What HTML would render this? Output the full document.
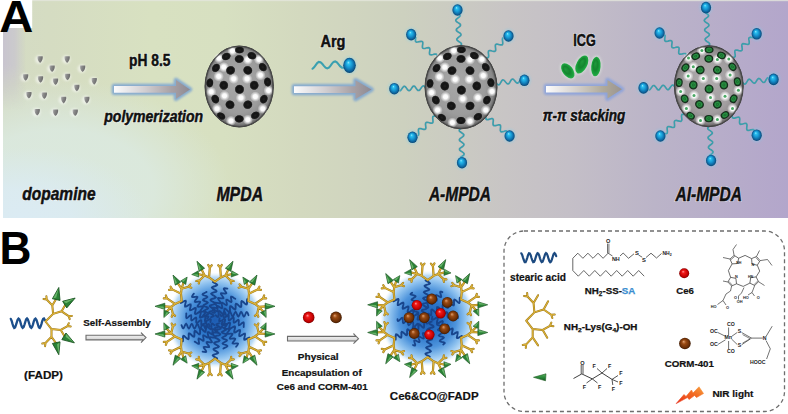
<!DOCTYPE html><html><head><meta charset="utf-8"><style>html,body{margin:0;padding:0;background:#fff;width:788px;height:414px;overflow:hidden}svg{display:block}text{font-family:"Liberation Sans",sans-serif}</style></head><body>
<svg width="788" height="414" viewBox="0 0 788 414">
<defs>
<linearGradient id="bgH" gradientUnits="userSpaceOnUse" x1="3" y1="0" x2="788" y2="0">
<stop offset="0" stop-color="#d4dbc4"/>
<stop offset="0.06" stop-color="#d5dcc2"/>
<stop offset="0.19" stop-color="#d8e1c1"/>
<stop offset="0.28" stop-color="#d7e0c1"/>
<stop offset="0.38" stop-color="#d3d9bf"/>
<stop offset="0.51" stop-color="#cdd1bf"/>
<stop offset="0.64" stop-color="#c8c5c5"/>
<stop offset="0.72" stop-color="#c4bfc7"/>
<stop offset="0.83" stop-color="#bbb4c8"/>
<stop offset="1" stop-color="#b3a6cb"/>
</linearGradient>
<radialGradient id="bgMint" gradientUnits="userSpaceOnUse" cx="60" cy="190" r="170" gradientTransform="translate(60 190) scale(1 0.647) translate(-60 -190)">
<stop offset="0" stop-color="#dbe9df" stop-opacity="0.95"/>
<stop offset="0.55" stop-color="#dbe9df" stop-opacity="0.9"/>
<stop offset="1" stop-color="#dbe9df" stop-opacity="0"/>
</radialGradient>
<radialGradient id="bgBlue" gradientUnits="userSpaceOnUse" cx="20" cy="217" r="130" gradientTransform="translate(20 217) scale(1 0.54) translate(-20 -217)">
<stop offset="0" stop-color="#dbebf3" stop-opacity="1"/>
<stop offset="0.4" stop-color="#dbebf3" stop-opacity="0.85"/>
<stop offset="1" stop-color="#dbebf3" stop-opacity="0"/>
</radialGradient>
<linearGradient id="bgL" gradientUnits="userSpaceOnUse" x1="3" y1="0" x2="26" y2="0">
<stop offset="0" stop-color="#c8c4cf" stop-opacity="1"/>
<stop offset="0.5" stop-color="#c8c4cf" stop-opacity="0.75"/>
<stop offset="1" stop-color="#c8c5cf" stop-opacity="0"/>
</linearGradient>
<linearGradient id="bgLmask" gradientUnits="userSpaceOnUse" x1="0" y1="28" x2="0" y2="110">
<stop offset="0" stop-color="#fff"/>
<stop offset="0.45" stop-color="#fff"/>
<stop offset="1" stop-color="#000"/>
</linearGradient>
<mask id="mL"><rect x="0" y="0" width="60" height="217" fill="url(#bgLmask)"/></mask>

<linearGradient id="arrG" x1="0" y1="0" x2="1" y2="0">
<stop offset="0" stop-color="#fbfbfd"/>
<stop offset="0.4" stop-color="#d2cfd2"/>
<stop offset="0.75" stop-color="#a9a2a6"/>
<stop offset="1" stop-color="#8e8a92"/>
</linearGradient>
<linearGradient id="arrG3" x1="0" y1="0" x2="1" y2="0">
<stop offset="0" stop-color="#fcfcfd"/>
<stop offset="0.4" stop-color="#d4d0cc"/>
<stop offset="0.75" stop-color="#b0aa9a"/>
<stop offset="1" stop-color="#9a9490"/>
</linearGradient>
<linearGradient id="arrGv" x1="0" y1="0" x2="0" y2="1">
<stop offset="0" stop-color="#fff" stop-opacity="0.5"/>
<stop offset="0.5" stop-color="#fff" stop-opacity="0"/>
<stop offset="1" stop-color="#000" stop-opacity="0.1"/>
</linearGradient>
<filter id="glow" x="-20%" y="-50%" width="140%" height="200%"><feGaussianBlur stdDeviation="1.0"/></filter>
<filter id="blur1" x="-50%" y="-50%" width="200%" height="200%"><feGaussianBlur stdDeviation="0.9"/></filter>
<filter id="blur05" x="-50%" y="-50%" width="200%" height="200%"><feGaussianBlur stdDeviation="0.5"/></filter>
<filter id="blur2" x="-50%" y="-50%" width="200%" height="200%"><feGaussianBlur stdDeviation="2"/></filter>
<filter id="tsh" x="-10%" y="-30%" width="120%" height="160%"><feGaussianBlur stdDeviation="0.35"/></filter>

<radialGradient id="sph" cx="0.5" cy="0.5" r="0.5" fx="0.45" fy="0.42">
<stop offset="0" stop-color="#a9a9a9"/>
<stop offset="0.7" stop-color="#9c9c9c"/>
<stop offset="0.92" stop-color="#888"/>
<stop offset="1" stop-color="#5a5a5a"/>
</radialGradient>
<radialGradient id="sphG" cx="0.5" cy="0.5" r="0.5" fx="0.45" fy="0.42">
<stop offset="0" stop-color="#b0acae"/>
<stop offset="0.7" stop-color="#a29ea0"/>
<stop offset="0.92" stop-color="#8c888a"/>
<stop offset="1" stop-color="#5e5a5c"/>
</radialGradient>
<radialGradient id="wsp" cx="0.5" cy="0.5" r="0.5">
<stop offset="0" stop-color="#ffffff" stop-opacity="1"/>
<stop offset="0.4" stop-color="#ffffff" stop-opacity="0.95"/>
<stop offset="0.7" stop-color="#f4f4f4" stop-opacity="0.5"/>
<stop offset="1" stop-color="#ffffff" stop-opacity="0"/>
</radialGradient>
<radialGradient id="dsp" cx="0.5" cy="0.5" r="0.5">
<stop offset="0" stop-color="#202020"/>
<stop offset="0.45" stop-color="#141414"/>
<stop offset="0.75" stop-color="#1a1a1a"/>
<stop offset="0.9" stop-color="#333" stop-opacity="0.7"/>
<stop offset="1" stop-color="#555" stop-opacity="0"/>
</radialGradient>
<radialGradient id="gsp" cx="0.5" cy="0.5" r="0.5">
<stop offset="0" stop-color="#248a3c"/>
<stop offset="0.35" stop-color="#1a6e30"/>
<stop offset="0.6" stop-color="#2a9444"/>
<stop offset="1" stop-color="#175a28"/>
</radialGradient>
<radialGradient id="ball" cx="0.5" cy="0.5" r="0.5" fx="0.4" fy="0.3">
<stop offset="0" stop-color="#9aeaff"/>
<stop offset="0.2" stop-color="#28c0f0"/>
<stop offset="0.55" stop-color="#1590cc"/>
<stop offset="0.85" stop-color="#0d6098"/>
<stop offset="1" stop-color="#0a4470"/>
</radialGradient>
<linearGradient id="dotg" x1="0" y1="0" x2="1" y2="0.3">
<stop offset="0" stop-color="#c4c4c4"/>
<stop offset="0.35" stop-color="#8e8e8e"/>
<stop offset="1" stop-color="#6a6a6a"/>
</linearGradient>
<radialGradient id="greenE" cx="0.5" cy="0.5" r="0.5" fx="0.4" fy="0.35">
<stop offset="0" stop-color="#1f9a3c"/>
<stop offset="0.5" stop-color="#14862f"/>
<stop offset="0.85" stop-color="#1ba23e"/>
<stop offset="1" stop-color="#2cb04c"/>
</radialGradient>
<radialGradient id="redB" cx="0.5" cy="0.5" r="0.5" fx="0.38" fy="0.32">
<stop offset="0" stop-color="#ff9a9a"/>
<stop offset="0.3" stop-color="#f01818"/>
<stop offset="0.8" stop-color="#c00000"/>
<stop offset="1" stop-color="#800000"/>
</radialGradient>
<radialGradient id="brB" cx="0.5" cy="0.5" r="0.5" fx="0.38" fy="0.32">
<stop offset="0" stop-color="#e0a070"/>
<stop offset="0.35" stop-color="#9a4a12"/>
<stop offset="0.8" stop-color="#6a2e06"/>
<stop offset="1" stop-color="#3e1a02"/>
</radialGradient>
<radialGradient id="mic" cx="0.5" cy="0.5" r="0.5">
<stop offset="0" stop-color="#1d5cb2"/>
<stop offset="0.35" stop-color="#2a74c8"/>
<stop offset="0.6" stop-color="#4e94dc"/>
<stop offset="0.78" stop-color="#8cc0ee"/>
<stop offset="0.9" stop-color="#bcdcf6"/>
<stop offset="1" stop-color="#e6f3fd" stop-opacity="0"/>
</radialGradient>
<linearGradient id="hollowA" x1="0" y1="0" x2="0" y2="1">
<stop offset="0" stop-color="#fdfdfd"/>
<stop offset="0.5" stop-color="#e2e2e2"/>
<stop offset="1" stop-color="#b8b8b8"/>
</linearGradient>
<linearGradient id="bolt" x1="0" y1="1" x2="1" y2="0">
<stop offset="0" stop-color="#e8301a"/>
<stop offset="0.6" stop-color="#f26a22"/>
<stop offset="1" stop-color="#f8a040"/>
</linearGradient>
<linearGradient id="cone" x1="0" y1="0" x2="0" y2="1">
<stop offset="0" stop-color="#5ab060"/>
<stop offset="0.5" stop-color="#2a8a3a"/>
<stop offset="1" stop-color="#155a22"/>
</linearGradient>

<g id="dend">
<path d="M0,0 L7.6,-7.6 M7.6,-7.6 L6.8,-16.1 M6.8,-16.1 L1.2,-22 M6.8,-16.1 L11,-23.2 M7.6,-7.6 L16.1,-10.2 M16.1,-10.2 L20.3,-17.6 M16.1,-10.2 L23.2,-5.4 M0,0 L6,7.6 M6,7.6 L6,15.2 M6,15.2 L0,21.5 M6,15.2 L11,22.4 M6,7.6 L15.3,8.4 M15.3,8.4 L22,4.6 M15.3,8.4 L19.5,15.5 M1.2,-22 L-2,-22.5 M1.2,-22 L0.9,-25.2 M23.2,-5.4 L26.4,-5.6 M23.2,-5.4 L24.2,-2.4 M0,21.5 L-0.4,24.7 M0,21.5 L-3.2,22 M22,4.6 L23.3,1.7 M22,4.6 L25.2,5 " stroke="#9a7618" stroke-width="2.0" fill="none" stroke-linecap="round" stroke-linejoin="round" vector-effect="non-scaling-stroke"/>
<path d="M0,0 L7.6,-7.6 M7.6,-7.6 L6.8,-16.1 M6.8,-16.1 L1.2,-22 M6.8,-16.1 L11,-23.2 M7.6,-7.6 L16.1,-10.2 M16.1,-10.2 L20.3,-17.6 M16.1,-10.2 L23.2,-5.4 M0,0 L6,7.6 M6,7.6 L6,15.2 M6,15.2 L0,21.5 M6,15.2 L11,22.4 M6,7.6 L15.3,8.4 M15.3,8.4 L22,4.6 M15.3,8.4 L19.5,15.5 M1.2,-22 L-2,-22.5 M1.2,-22 L0.9,-25.2 M23.2,-5.4 L26.4,-5.6 M23.2,-5.4 L24.2,-2.4 M0,21.5 L-0.4,24.7 M0,21.5 L-3.2,22 M22,4.6 L23.3,1.7 M22,4.6 L25.2,5 " stroke="#dcb238" stroke-width="1.1" fill="none" stroke-linecap="round" stroke-linejoin="round" vector-effect="non-scaling-stroke"/>
</g>
<g id="cone1"><path d="M-1,-3.0 L8.5,0 L-1,3.0 Z" fill="#2a8236" stroke="#17501e" stroke-width="0.6" stroke-linejoin="round"/><path d="M-0.6,-2.5 L8,0 L0.5,-0.3 Z" fill="#7cc47a" opacity="0.75"/></g>
<g id="dendM">
<path d="M0,0 L4.1,-5.7 M4.1,-5.7 L5.9,-10 M4.1,-5.7 L13.5,-5 M5.9,-10 L12.3,-13.1 M5.9,-10 L7.4,-16.5 M5.9,-10 L1.2,-15 M0,0 L4.1,5.7 M4.1,5.7 L5.9,10 M4.1,5.7 L13.5,5 M5.9,10 L12.3,13.1 M5.9,10 L7.4,16.5 M5.9,10 L1.2,15 M13.5,-5 L16.1,-6.5 M13.5,-5 L15.8,-3.1 M1.2,-15 L-1.7,-15.6 M1.2,-15 L0.7,-18 M13.5,5 L15.8,3.1 M13.5,5 L16.1,6.5 M1.2,15 L0.7,18 M1.2,15 L-1.7,15.6 " stroke="#9a7618" stroke-width="2.1" fill="none" stroke-linecap="round" stroke-linejoin="round"/>
<path d="M0,0 L4.1,-5.7 M4.1,-5.7 L5.9,-10 M4.1,-5.7 L13.5,-5 M5.9,-10 L12.3,-13.1 M5.9,-10 L7.4,-16.5 M5.9,-10 L1.2,-15 M0,0 L4.1,5.7 M4.1,5.7 L5.9,10 M4.1,5.7 L13.5,5 M5.9,10 L12.3,13.1 M5.9,10 L7.4,16.5 M5.9,10 L1.2,15 M13.5,-5 L16.1,-6.5 M13.5,-5 L15.8,-3.1 M1.2,-15 L-1.7,-15.6 M1.2,-15 L0.7,-18 M13.5,5 L15.8,3.1 M13.5,5 L16.1,6.5 M1.2,15 L0.7,18 M1.2,15 L-1.7,15.6 " stroke="#dcb238" stroke-width="1.15" fill="none" stroke-linecap="round" stroke-linejoin="round"/>
<use href="#cone1" transform="translate(12.3 -13.1) rotate(-30) scale(1 1)"/>
<use href="#cone1" transform="translate(7.4 -16.5) rotate(-95) scale(0.7 1)"/>
<use href="#cone1" transform="translate(12.3 13.1) rotate(30) scale(1 1)"/>
<use href="#cone1" transform="translate(7.4 16.5) rotate(95) scale(0.7 1)"/>
</g>
<g id="dendc"><use href="#dend"/>
<use href="#cone1" transform="translate(11 -23.2) rotate(-78)"/>
<use href="#cone1" transform="translate(20.3 -17.6) rotate(-32)"/>
<use href="#cone1" transform="translate(11 22.4) rotate(78)"/>
<use href="#cone1" transform="translate(19.5 15.5) rotate(32)"/>
</g>
</defs>
<rect x="0" y="0" width="788" height="414" fill="#fff"/>
<rect x="3" y="0" width="785" height="218" fill="url(#bgH)"/>
<rect x="3" y="0" width="785" height="218" fill="url(#bgMint)"/>
<rect x="3" y="0" width="785" height="218" fill="url(#bgBlue)"/>
<rect x="3" y="0" width="40" height="217" fill="url(#bgL)" mask="url(#mL)"/>
<rect x="3" y="0" width="785" height="1.2" fill="#e4e6dc" opacity="0.8"/>
<rect x="0" y="0" width="32.2" height="28" fill="#fff"/>
<text x="-0.8" y="31.7" font-size="44.64" font-weight="bold" fill="#000" textLength="34.06" lengthAdjust="spacingAndGlyphs">A</text>
<circle cx="39.3" cy="59.5" r="4.2" fill="#fff" opacity="0.55" filter="url(#blur1)"/>
<path d="M37.5,56.3 l5.2,0 q0.6,3.8 -2.6,6.6 q-3.2,-2.8 -2.6,-6.6 z" fill="url(#dotg)" filter="url(#blur05)"/>
<circle cx="66.3" cy="59.5" r="4.2" fill="#fff" opacity="0.55" filter="url(#blur1)"/>
<path d="M64.5,56.3 l5.2,0 q0.6,3.8 -2.6,6.6 q-3.2,-2.8 -2.6,-6.6 z" fill="url(#dotg)" filter="url(#blur05)"/>
<circle cx="51.3" cy="68.6" r="4.2" fill="#fff" opacity="0.55" filter="url(#blur1)"/>
<path d="M49.5,65.4 l5.2,0 q0.6,3.8 -2.6,6.6 q-3.2,-2.8 -2.6,-6.6 z" fill="url(#dotg)" filter="url(#blur05)"/>
<circle cx="81.8" cy="68.6" r="4.2" fill="#fff" opacity="0.55" filter="url(#blur1)"/>
<path d="M80,65.4 l5.2,0 q0.6,3.8 -2.6,6.6 q-3.2,-2.8 -2.6,-6.6 z" fill="url(#dotg)" filter="url(#blur05)"/>
<circle cx="24.8" cy="77.4" r="4.2" fill="#fff" opacity="0.55" filter="url(#blur1)"/>
<path d="M23,74.2 l5.2,0 q0.6,3.8 -2.6,6.6 q-3.2,-2.8 -2.6,-6.6 z" fill="url(#dotg)" filter="url(#blur05)"/>
<circle cx="39.7" cy="79.4" r="4.2" fill="#fff" opacity="0.55" filter="url(#blur1)"/>
<path d="M37.9,76.2 l5.2,0 q0.6,3.8 -2.6,6.6 q-3.2,-2.8 -2.6,-6.6 z" fill="url(#dotg)" filter="url(#blur05)"/>
<circle cx="54.7" cy="81.7" r="4.2" fill="#fff" opacity="0.55" filter="url(#blur1)"/>
<path d="M52.9,78.5 l5.2,0 q0.6,3.8 -2.6,6.6 q-3.2,-2.8 -2.6,-6.6 z" fill="url(#dotg)" filter="url(#blur05)"/>
<circle cx="66.7" cy="76.9" r="4.2" fill="#fff" opacity="0.55" filter="url(#blur1)"/>
<path d="M64.9,73.7 l5.2,0 q0.6,3.8 -2.6,6.6 q-3.2,-2.8 -2.6,-6.6 z" fill="url(#dotg)" filter="url(#blur05)"/>
<circle cx="93.4" cy="81.3" r="4.2" fill="#fff" opacity="0.55" filter="url(#blur1)"/>
<path d="M91.6,78.1 l5.2,0 q0.6,3.8 -2.6,6.6 q-3.2,-2.8 -2.6,-6.6 z" fill="url(#dotg)" filter="url(#blur05)"/>
<circle cx="76" cy="87.9" r="4.2" fill="#fff" opacity="0.55" filter="url(#blur1)"/>
<path d="M74.2,84.7 l5.2,0 q0.6,3.8 -2.6,6.6 q-3.2,-2.8 -2.6,-6.6 z" fill="url(#dotg)" filter="url(#blur05)"/>
<circle cx="28.1" cy="95.2" r="4.2" fill="#fff" opacity="0.55" filter="url(#blur1)"/>
<path d="M26.3,92 l5.2,0 q0.6,3.8 -2.6,6.6 q-3.2,-2.8 -2.6,-6.6 z" fill="url(#dotg)" filter="url(#blur05)"/>
<circle cx="43.5" cy="95.6" r="4.2" fill="#fff" opacity="0.55" filter="url(#blur1)"/>
<path d="M41.7,92.4 l5.2,0 q0.6,3.8 -2.6,6.6 q-3.2,-2.8 -2.6,-6.6 z" fill="url(#dotg)" filter="url(#blur05)"/>
<circle cx="62.8" cy="100" r="4.2" fill="#fff" opacity="0.55" filter="url(#blur1)"/>
<path d="M61,96.8 l5.2,0 q0.6,3.8 -2.6,6.6 q-3.2,-2.8 -2.6,-6.6 z" fill="url(#dotg)" filter="url(#blur05)"/>
<circle cx="86" cy="100" r="4.2" fill="#fff" opacity="0.55" filter="url(#blur1)"/>
<path d="M84.2,96.8 l5.2,0 q0.6,3.8 -2.6,6.6 q-3.2,-2.8 -2.6,-6.6 z" fill="url(#dotg)" filter="url(#blur05)"/>
<circle cx="36.4" cy="112.2" r="4.2" fill="#fff" opacity="0.55" filter="url(#blur1)"/>
<path d="M34.6,109 l5.2,0 q0.6,3.8 -2.6,6.6 q-3.2,-2.8 -2.6,-6.6 z" fill="url(#dotg)" filter="url(#blur05)"/>
<circle cx="54.7" cy="112.6" r="4.2" fill="#fff" opacity="0.55" filter="url(#blur1)"/>
<path d="M52.9,109.4 l5.2,0 q0.6,3.8 -2.6,6.6 q-3.2,-2.8 -2.6,-6.6 z" fill="url(#dotg)" filter="url(#blur05)"/>
<circle cx="74.4" cy="112.6" r="4.2" fill="#fff" opacity="0.55" filter="url(#blur1)"/>
<path d="M72.6,109.4 l5.2,0 q0.6,3.8 -2.6,6.6 q-3.2,-2.8 -2.6,-6.6 z" fill="url(#dotg)" filter="url(#blur05)"/>
<path d="M114,86.1 L176,86.1 L176,80.1 L190,89.4 L176,98.7 L176,92.7 L114,92.7 Z" fill="#7ea6d0" stroke="#7ea6d0" stroke-width="4.6" stroke-linejoin="round" opacity="0.9" filter="url(#glow)"/>
<path d="M114,86.1 L176,86.1 L176,80.1 L190,89.4 L176,98.7 L176,92.7 L114,92.7 Z" fill="url(#arrG)" filter="url(#blur05)"/>
<path d="M294,86.3 L355.5,86.3 L355.5,80.3 L371.5,89.6 L355.5,98.9 L355.5,92.9 L294,92.9 Z" fill="#7ea6d0" stroke="#7ea6d0" stroke-width="4.6" stroke-linejoin="round" opacity="0.9" filter="url(#glow)"/>
<path d="M294,86.3 L355.5,86.3 L355.5,80.3 L371.5,89.6 L355.5,98.9 L355.5,92.9 L294,92.9 Z" fill="url(#arrG)" filter="url(#blur05)"/>
<path d="M546,86 L607.5,86 L607.5,80 L622,89.3 L607.5,98.6 L607.5,92.6 L546,92.6 Z" fill="#8aa2dc" stroke="#8aa2dc" stroke-width="4.6" stroke-linejoin="round" opacity="0.9" filter="url(#glow)"/>
<path d="M546,86 L607.5,86 L607.5,80 L622,89.3 L607.5,98.6 L607.5,92.6 L546,92.6 Z" fill="url(#arrG3)" filter="url(#blur05)"/>
<text x="129.1" y="66.1" font-size="15.86" font-weight="bold" fill="#fff" stroke="#fff" stroke-width="2.2" opacity="0.45" textLength="41.32" lengthAdjust="spacingAndGlyphs" filter="url(#tsh)">pH 8.5</text>
<text x="129.1" y="66.1" font-size="15.86" font-weight="bold" fill="#111" stroke="#111" stroke-width="0.5" textLength="41.32" lengthAdjust="spacingAndGlyphs">pH 8.5</text>
<text x="104.3" y="122.3" font-size="15.72" font-weight="bold" font-style="italic" fill="#fff" stroke="#fff" stroke-width="2.2" opacity="0.45" textLength="98.76" lengthAdjust="spacingAndGlyphs" filter="url(#tsh)">polymerization</text>
<text x="104.3" y="122.3" font-size="15.72" font-weight="bold" font-style="italic" fill="#111" stroke="#111" stroke-width="0.5" textLength="98.76" lengthAdjust="spacingAndGlyphs">polymerization</text>
<text x="320.4" y="46.6" font-size="16.67" font-weight="bold" fill="#fff" stroke="#fff" stroke-width="2.2" opacity="0.45" textLength="25.03" lengthAdjust="spacingAndGlyphs" filter="url(#tsh)">Arg</text>
<text x="320.4" y="46.6" font-size="16.67" font-weight="bold" fill="#111" stroke="#111" stroke-width="0.5" textLength="25.03" lengthAdjust="spacingAndGlyphs">Arg</text>
<text x="573.3" y="46.2" font-size="17.29" font-weight="bold" fill="#fff" stroke="#fff" stroke-width="2.2" opacity="0.45" textLength="22.45" lengthAdjust="spacingAndGlyphs" filter="url(#tsh)">ICG</text>
<text x="573.3" y="46.2" font-size="17.29" font-weight="bold" fill="#111" stroke="#111" stroke-width="0.5" textLength="22.45" lengthAdjust="spacingAndGlyphs">ICG</text>
<text x="542.8" y="121.4" font-size="16.00" font-weight="bold" font-style="italic" fill="#fff" stroke="#fff" stroke-width="2.2" opacity="0.45" textLength="82.47" lengthAdjust="spacingAndGlyphs" filter="url(#tsh)">&#960;-&#960; stacking</text>
<text x="542.8" y="121.4" font-size="16.00" font-weight="bold" font-style="italic" fill="#111" stroke="#111" stroke-width="0.5" textLength="82.47" lengthAdjust="spacingAndGlyphs">&#960;-&#960; stacking</text>
<text x="22.3" y="199.9" font-size="18.62" font-weight="bold" font-style="italic" fill="#fff" stroke="#fff" stroke-width="2.2" opacity="0.45" textLength="73.28" lengthAdjust="spacingAndGlyphs" filter="url(#tsh)">dopamine</text>
<text x="22.3" y="199.9" font-size="18.62" font-weight="bold" font-style="italic" fill="#111" stroke="#111" stroke-width="0.5" textLength="73.28" lengthAdjust="spacingAndGlyphs">dopamine</text>
<text x="216.4" y="201.2" font-size="19.71" font-weight="bold" font-style="italic" fill="#fff" stroke="#fff" stroke-width="2.2" opacity="0.45" textLength="46.73" lengthAdjust="spacingAndGlyphs" filter="url(#tsh)">MPDA</text>
<text x="216.4" y="201.2" font-size="19.71" font-weight="bold" font-style="italic" fill="#111" stroke="#111" stroke-width="0.5" textLength="46.73" lengthAdjust="spacingAndGlyphs">MPDA</text>
<text x="428.9" y="201.4" font-size="19.57" font-weight="bold" font-style="italic" fill="#fff" stroke="#fff" stroke-width="2.2" opacity="0.45" textLength="62.15" lengthAdjust="spacingAndGlyphs" filter="url(#tsh)">A-MPDA</text>
<text x="428.9" y="201.4" font-size="19.57" font-weight="bold" font-style="italic" fill="#111" stroke="#111" stroke-width="0.5" textLength="62.15" lengthAdjust="spacingAndGlyphs">A-MPDA</text>
<text x="675.4" y="201.4" font-size="19.57" font-weight="bold" font-style="italic" fill="#fff" stroke="#fff" stroke-width="2.2" opacity="0.45" textLength="66.58" lengthAdjust="spacingAndGlyphs" filter="url(#tsh)">AI-MPDA</text>
<text x="675.4" y="201.4" font-size="19.57" font-weight="bold" font-style="italic" fill="#111" stroke="#111" stroke-width="0.5" textLength="66.58" lengthAdjust="spacingAndGlyphs">AI-MPDA</text>
<ellipse cx="239.2" cy="86.5" rx="34.2" ry="40.5" fill="url(#sph)" stroke="#3a3a3a" stroke-width="1"/>
<circle cx="232.4" cy="50.9" r="5.2" fill="url(#wsp)"/>
<circle cx="219" cy="58.2" r="5.2" fill="url(#wsp)"/>
<circle cx="247.8" cy="59.8" r="5.2" fill="url(#wsp)"/>
<circle cx="259" cy="59.4" r="5.2" fill="url(#wsp)"/>
<circle cx="223.8" cy="67.1" r="5.2" fill="url(#wsp)"/>
<circle cx="218.7" cy="76.4" r="5.2" fill="url(#wsp)"/>
<circle cx="233.7" cy="78.8" r="5.2" fill="url(#wsp)"/>
<circle cx="247.1" cy="78.8" r="5.2" fill="url(#wsp)"/>
<circle cx="260.4" cy="75.2" r="5.2" fill="url(#wsp)"/>
<circle cx="211.2" cy="91.8" r="5.2" fill="url(#wsp)"/>
<circle cx="224.5" cy="95.8" r="5.2" fill="url(#wsp)"/>
<circle cx="240.9" cy="97.8" r="5.2" fill="url(#wsp)"/>
<circle cx="255.3" cy="96.6" r="5.2" fill="url(#wsp)"/>
<circle cx="268.6" cy="90.5" r="5.2" fill="url(#wsp)"/>
<circle cx="217" cy="108.8" r="5.2" fill="url(#wsp)"/>
<circle cx="231" cy="120.9" r="5.2" fill="url(#wsp)"/>
<circle cx="247.8" cy="119.7" r="5.2" fill="url(#wsp)"/>
<circle cx="262.8" cy="108.8" r="5.2" fill="url(#wsp)"/>
<ellipse cx="239.5" cy="50" rx="3.8" ry="5" transform="rotate(-89.5 239.5 50)" fill="url(#dsp)"/>
<ellipse cx="226.2" cy="56.5" rx="4" ry="5" transform="rotate(-113.4 226.2 56.5)" fill="url(#dsp)"/>
<ellipse cx="239.2" cy="59" rx="4.4" ry="5" transform="rotate(-90 239.2 59)" fill="url(#dsp)"/>
<ellipse cx="251.9" cy="55.7" rx="4" ry="5" transform="rotate(-67.7 251.9 55.7)" fill="url(#dsp)"/>
<ellipse cx="215.9" cy="67.9" rx="4" ry="5" transform="rotate(-141.3 215.9 67.9)" fill="url(#dsp)"/>
<ellipse cx="230.6" cy="70.3" rx="4.7" ry="5" transform="rotate(-117.8 230.6 70.3)" fill="url(#dsp)"/>
<ellipse cx="247.8" cy="70.3" rx="4.7" ry="5" transform="rotate(-62.2 247.8 70.3)" fill="url(#dsp)"/>
<ellipse cx="262.8" cy="67.1" rx="4" ry="5" transform="rotate(-39.5 262.8 67.1)" fill="url(#dsp)"/>
<ellipse cx="209.8" cy="82.9" rx="3.9" ry="5" transform="rotate(-172.9 209.8 82.9)" fill="url(#dsp)"/>
<ellipse cx="223.8" cy="85.3" rx="4.8" ry="5" transform="rotate(-175.5 223.8 85.3)" fill="url(#dsp)"/>
<ellipse cx="239.5" cy="89.3" rx="5" ry="5" transform="rotate(83.1 239.5 89.3)" fill="url(#dsp)"/>
<ellipse cx="254.2" cy="85.3" rx="4.8" ry="5" transform="rotate(-4.6 254.2 85.3)" fill="url(#dsp)"/>
<ellipse cx="267.6" cy="82" rx="4" ry="5" transform="rotate(-8.9 267.6 82)" fill="url(#dsp)"/>
<ellipse cx="215.3" cy="99.1" rx="4.2" ry="5" transform="rotate(152.3 215.3 99.1)" fill="url(#dsp)"/>
<ellipse cx="230" cy="104.7" rx="4.7" ry="5" transform="rotate(116.9 230 104.7)" fill="url(#dsp)"/>
<ellipse cx="247.8" cy="104.7" rx="4.7" ry="5" transform="rotate(64.9 247.8 104.7)" fill="url(#dsp)"/>
<ellipse cx="263.8" cy="99.1" rx="4.1" ry="5" transform="rotate(27 263.8 99.1)" fill="url(#dsp)"/>
<ellipse cx="221.1" cy="116.1" rx="3.8" ry="5" transform="rotate(121.5 221.1 116.1)" fill="url(#dsp)"/>
<ellipse cx="239.2" cy="118.9" rx="4.1" ry="5" transform="rotate(90 239.2 118.9)" fill="url(#dsp)"/>
<ellipse cx="255.3" cy="115.3" rx="3.9" ry="5" transform="rotate(60.8 255.3 115.3)" fill="url(#dsp)"/>
<ellipse cx="239.2" cy="86.5" rx="33.8" ry="40.1" fill="none" stroke="#4a4a4a" stroke-width="1.2" opacity="0.8"/>
<path d="M459.4,46.5 L460.7,45.4 L461.5,44.5 L461.4,43.5 L460.5,42.6 L459.1,41.7 L457.7,40.8 L456.9,39.9 L456.8,39 L457.7,38 L459,36.9 L460.3,35.9 L461,34.9 L460.9,34 L460,33.1 L458.5,32.2 L457.2,31.3 L456.3,30.4 L456.4,29.4 L457.2,28.4 L458.6,27.4 L459.8,26.4 L460.5,25.4 L460.4,24.4 L459.4,23.5 L458,22.6 L456.6,21.7 L455.8,20.8 L455.9,19.9 L456.8,18.9 L458.1,17.8 L459.4,16.8 L460.1,15.8 L459.8,14.9" fill="none" stroke="#f0a8b8" stroke-width="2.8" opacity="0.2" stroke-linejoin="round"/>
<path d="M459.4,46.5 L460.7,45.4 L461.5,44.5 L461.4,43.5 L460.5,42.6 L459.1,41.7 L457.7,40.8 L456.9,39.9 L456.8,39 L457.7,38 L459,36.9 L460.3,35.9 L461,34.9 L460.9,34 L460,33.1 L458.5,32.2 L457.2,31.3 L456.3,30.4 L456.4,29.4 L457.2,28.4 L458.6,27.4 L459.8,26.4 L460.5,25.4 L460.4,24.4 L459.4,23.5 L458,22.6 L456.6,21.7 L455.8,20.8 L455.9,19.9 L456.8,18.9 L458.1,17.8 L459.4,16.8 L460.1,15.8 L459.8,14.9" fill="none" stroke="#3c9eac" stroke-width="1.7" stroke-linejoin="round"/>
<path d="M485,57.3 L486.6,57.7 L487.9,57.7 L488.6,57 L488.7,55.7 L488.5,54.1 L488.3,52.4 L488.5,51.2 L489.2,50.6 L490.5,50.6 L492.1,51 L493.7,51.3 L495,51.3 L495.6,50.6 L495.7,49.3 L495.5,47.6 L495.3,46 L495.5,44.8 L496.3,44.2 L497.6,44.2 L499.2,44.6 L500.8,44.9 L502.1,44.9 L502.7,44.1 L502.8,42.8 L502.6,41.2 L502.4,39.5 L502.6,38.3 L503.4,37.8" fill="none" stroke="#f0a8b8" stroke-width="2.8" opacity="0.2" stroke-linejoin="round"/>
<path d="M485,57.3 L486.6,57.7 L487.9,57.7 L488.6,57 L488.7,55.7 L488.5,54.1 L488.3,52.4 L488.5,51.2 L489.2,50.6 L490.5,50.6 L492.1,51 L493.7,51.3 L495,51.3 L495.6,50.6 L495.7,49.3 L495.5,47.6 L495.3,46 L495.5,44.8 L496.3,44.2 L497.6,44.2 L499.2,44.6 L500.8,44.9 L502.1,44.9 L502.7,44.1 L502.8,42.8 L502.6,41.2 L502.4,39.5 L502.6,38.3 L503.4,37.8" fill="none" stroke="#3c9eac" stroke-width="1.7" stroke-linejoin="round"/>
<path d="M496.1,82.8 L497.2,84.1 L498.2,84.8 L499.2,84.7 L500.1,83.7 L500.9,82.2 L501.8,80.7 L502.7,79.9 L503.7,80 L504.7,81 L505.8,82.3 L506.9,83.5 L507.9,84 L508.9,83.6 L509.8,82.4 L510.6,80.9 L511.5,79.6 L512.4,79 L513.4,79.4 L514.5,80.5 L515.6,81.9 L516.7,82.9 L517.7,83.2 L518.6,82.5 L519.5,81.2" fill="none" stroke="#f0a8b8" stroke-width="2.8" opacity="0.2" stroke-linejoin="round"/>
<path d="M496.1,82.8 L497.2,84.1 L498.2,84.8 L499.2,84.7 L500.1,83.7 L500.9,82.2 L501.8,80.7 L502.7,79.9 L503.7,80 L504.7,81 L505.8,82.3 L506.9,83.5 L507.9,84 L508.9,83.6 L509.8,82.4 L510.6,80.9 L511.5,79.6 L512.4,79 L513.4,79.4 L514.5,80.5 L515.6,81.9 L516.7,82.9 L517.7,83.2 L518.6,82.5 L519.5,81.2" fill="none" stroke="#3c9eac" stroke-width="1.7" stroke-linejoin="round"/>
<path d="M485.9,116.1 L485.8,117.8 L486,119 L486.7,119.6 L488,119.6 L489.6,119.1 L491.2,118.7 L492.5,118.7 L493.2,119.4 L493.3,120.7 L493.1,122.4 L493,124 L493.3,125.2 L494.1,125.7 L495.5,125.6 L497.1,125.2 L498.7,124.8 L499.9,124.9 L500.5,125.6 L500.6,127 L500.4,128.7 L500.3,130.3 L500.6,131.4 L501.5,131.9 L502.9,131.7 L504.6,131.2 L506.1,130.9 L507.2,131" fill="none" stroke="#f0a8b8" stroke-width="2.8" opacity="0.2" stroke-linejoin="round"/>
<path d="M485.9,116.1 L485.8,117.8 L486,119 L486.7,119.6 L488,119.6 L489.6,119.1 L491.2,118.7 L492.5,118.7 L493.2,119.4 L493.3,120.7 L493.1,122.4 L493,124 L493.3,125.2 L494.1,125.7 L495.5,125.6 L497.1,125.2 L498.7,124.8 L499.9,124.9 L500.5,125.6 L500.6,127 L500.4,128.7 L500.3,130.3 L500.6,131.4 L501.5,131.9 L502.9,131.7 L504.6,131.2 L506.1,130.9 L507.2,131" fill="none" stroke="#3c9eac" stroke-width="1.7" stroke-linejoin="round"/>
<path d="M461.5,128 L460.1,128.9 L459.3,129.9 L459.3,130.9 L460.2,131.8 L461.6,132.8 L463,133.7 L463.8,134.6 L463.7,135.6 L462.8,136.6 L461.5,137.6 L460.2,138.5 L459.4,139.5 L459.5,140.5 L460.5,141.4 L461.9,142.3 L463.2,143.3 L464,144.2 L463.8,145.2 L462.9,146.2 L461.5,147.2 L460.2,148.1 L459.5,149.1 L459.7,150.1 L460.8,151 L462.2,151.9 L463.5,152.9 L464.1,153.8 L463.9,154.8 L462.9,155.8 L461.5,156.7 L460.2,157.7" fill="none" stroke="#f0a8b8" stroke-width="2.8" opacity="0.2" stroke-linejoin="round"/>
<path d="M461.5,128 L460.1,128.9 L459.3,129.9 L459.3,130.9 L460.2,131.8 L461.6,132.8 L463,133.7 L463.8,134.6 L463.7,135.6 L462.8,136.6 L461.5,137.6 L460.2,138.5 L459.4,139.5 L459.5,140.5 L460.5,141.4 L461.9,142.3 L463.2,143.3 L464,144.2 L463.8,145.2 L462.9,146.2 L461.5,147.2 L460.2,148.1 L459.5,149.1 L459.7,150.1 L460.8,151 L462.2,151.9 L463.5,152.9 L464.1,153.8 L463.9,154.8 L462.9,155.8 L461.5,156.7 L460.2,157.7" fill="none" stroke="#3c9eac" stroke-width="1.7" stroke-linejoin="round"/>
<path d="M436.5,116.5 L434.9,116.1 L433.6,116.1 L432.9,116.7 L432.7,118 L432.9,119.6 L433,121.3 L432.9,122.5 L432.1,123.1 L430.8,123.1 L429.2,122.7 L427.6,122.3 L426.4,122.3 L425.7,123 L425.5,124.3 L425.7,126 L425.9,127.6 L425.7,128.8 L424.9,129.4 L423.6,129.3 L421.9,128.9 L420.4,128.5 L419.1,128.6 L418.5,129.3 L418.4,130.6 L418.6,132.3 L418.7,133.9 L418.5,135.1 L417.7,135.6" fill="none" stroke="#f0a8b8" stroke-width="2.8" opacity="0.2" stroke-linejoin="round"/>
<path d="M436.5,116.5 L434.9,116.1 L433.6,116.1 L432.9,116.7 L432.7,118 L432.9,119.6 L433,121.3 L432.9,122.5 L432.1,123.1 L430.8,123.1 L429.2,122.7 L427.6,122.3 L426.4,122.3 L425.7,123 L425.5,124.3 L425.7,126 L425.9,127.6 L425.7,128.8 L424.9,129.4 L423.6,129.3 L421.9,128.9 L420.4,128.5 L419.1,128.6 L418.5,129.3 L418.4,130.6 L418.6,132.3 L418.7,133.9 L418.5,135.1 L417.7,135.6" fill="none" stroke="#3c9eac" stroke-width="1.7" stroke-linejoin="round"/>
<path d="M425.7,88.1 L424.7,86.7 L423.7,85.9 L422.8,86 L421.8,87 L420.8,88.4 L419.9,89.8 L418.9,90.5 L417.9,90.3 L416.9,89.3 L415.9,87.9 L414.9,86.6 L413.9,86 L413,86.4 L412,87.6 L411.1,89 L410.1,90.3 L409.1,90.7 L408.1,90.3 L407.1,89.1 L406.1,87.6 L405.1,86.5 L404.2,86.2 L403.2,86.9 L402.2,88.2 L401.3,89.6 L400.3,90.7 L399.3,90.9" fill="none" stroke="#f0a8b8" stroke-width="2.8" opacity="0.2" stroke-linejoin="round"/>
<path d="M425.7,88.1 L424.7,86.7 L423.7,85.9 L422.8,86 L421.8,87 L420.8,88.4 L419.9,89.8 L418.9,90.5 L417.9,90.3 L416.9,89.3 L415.9,87.9 L414.9,86.6 L413.9,86 L413,86.4 L412,87.6 L411.1,89 L410.1,90.3 L409.1,90.7 L408.1,90.3 L407.1,89.1 L406.1,87.6 L405.1,86.5 L404.2,86.2 L403.2,86.9 L402.2,88.2 L401.3,89.6 L400.3,90.7 L399.3,90.9" fill="none" stroke="#3c9eac" stroke-width="1.7" stroke-linejoin="round"/>
<path d="M436.7,57.6 L436.9,55.9 L436.8,54.6 L436,54 L434.6,54.1 L433,54.5 L431.3,54.8 L430.1,54.7 L429.5,53.9 L429.5,52.5 L429.8,50.7 L429.9,49.1 L429.5,48 L428.6,47.6 L427.1,47.8 L425.4,48.3 L423.9,48.5 L422.8,48.2 L422.4,47.2 L422.5,45.6 L422.8,43.9 L422.8,42.4 L422.3,41.5 L421.1,41.3 L419.5,41.6 L417.8,42 L416.4,42.1 L415.6,41.6 L415.4,40.4 L415.5,38.7 L415.8,37" fill="none" stroke="#f0a8b8" stroke-width="2.8" opacity="0.2" stroke-linejoin="round"/>
<path d="M436.7,57.6 L436.9,55.9 L436.8,54.6 L436,54 L434.6,54.1 L433,54.5 L431.3,54.8 L430.1,54.7 L429.5,53.9 L429.5,52.5 L429.8,50.7 L429.9,49.1 L429.5,48 L428.6,47.6 L427.1,47.8 L425.4,48.3 L423.9,48.5 L422.8,48.2 L422.4,47.2 L422.5,45.6 L422.8,43.9 L422.8,42.4 L422.3,41.5 L421.1,41.3 L419.5,41.6 L417.8,42 L416.4,42.1 L415.6,41.6 L415.4,40.4 L415.5,38.7 L415.8,37" fill="none" stroke="#3c9eac" stroke-width="1.7" stroke-linejoin="round"/>
<ellipse cx="457.5" cy="10" rx="6.5" ry="7.2" fill="#6fd0f5" opacity="0.3" filter="url(#blur1)"/>
<ellipse cx="457.5" cy="10" rx="5.1" ry="5.8" fill="url(#ball)"/>
<ellipse cx="508.5" cy="36" rx="6.5" ry="7.2" fill="#6fd0f5" opacity="0.3" filter="url(#blur1)"/>
<ellipse cx="508.5" cy="36" rx="5.1" ry="5.8" fill="url(#ball)"/>
<ellipse cx="524.4" cy="80.3" rx="6.5" ry="7.2" fill="#6fd0f5" opacity="0.3" filter="url(#blur1)"/>
<ellipse cx="524.4" cy="80.3" rx="5.1" ry="5.8" fill="url(#ball)"/>
<ellipse cx="509.6" cy="136" rx="6.5" ry="7.2" fill="#6fd0f5" opacity="0.3" filter="url(#blur1)"/>
<ellipse cx="509.6" cy="136" rx="5.1" ry="5.8" fill="url(#ball)"/>
<ellipse cx="462" cy="162.7" rx="6.5" ry="7.2" fill="#6fd0f5" opacity="0.3" filter="url(#blur1)"/>
<ellipse cx="462" cy="162.7" rx="5.1" ry="5.8" fill="url(#ball)"/>
<ellipse cx="412.5" cy="137.3" rx="6.5" ry="7.2" fill="#6fd0f5" opacity="0.3" filter="url(#blur1)"/>
<ellipse cx="412.5" cy="137.3" rx="5.1" ry="5.8" fill="url(#ball)"/>
<ellipse cx="394.3" cy="88.7" rx="6.5" ry="7.2" fill="#6fd0f5" opacity="0.3" filter="url(#blur1)"/>
<ellipse cx="394.3" cy="88.7" rx="5.1" ry="5.8" fill="url(#ball)"/>
<ellipse cx="411.2" cy="34.6" rx="6.5" ry="7.2" fill="#6fd0f5" opacity="0.3" filter="url(#blur1)"/>
<ellipse cx="411.2" cy="34.6" rx="5.1" ry="5.8" fill="url(#ball)"/>
<ellipse cx="461" cy="87.2" rx="36" ry="41.6" fill="url(#sph)" stroke="#3a3a3a" stroke-width="1"/>
<circle cx="453.8" cy="50.6" r="5.2" fill="url(#wsp)"/>
<circle cx="439.8" cy="58.1" r="5.2" fill="url(#wsp)"/>
<circle cx="470" cy="59.7" r="5.2" fill="url(#wsp)"/>
<circle cx="481.9" cy="59.3" r="5.2" fill="url(#wsp)"/>
<circle cx="444.8" cy="67.2" r="5.2" fill="url(#wsp)"/>
<circle cx="439.4" cy="76.8" r="5.2" fill="url(#wsp)"/>
<circle cx="455.2" cy="79.3" r="5.2" fill="url(#wsp)"/>
<circle cx="469.3" cy="79.3" r="5.2" fill="url(#wsp)"/>
<circle cx="483.3" cy="75.6" r="5.2" fill="url(#wsp)"/>
<circle cx="431.5" cy="92.6" r="5.2" fill="url(#wsp)"/>
<circle cx="445.5" cy="96.8" r="5.2" fill="url(#wsp)"/>
<circle cx="462.8" cy="98.8" r="5.2" fill="url(#wsp)"/>
<circle cx="477.9" cy="97.6" r="5.2" fill="url(#wsp)"/>
<circle cx="492" cy="91.4" r="5.2" fill="url(#wsp)"/>
<circle cx="437.6" cy="110.1" r="5.2" fill="url(#wsp)"/>
<circle cx="452.4" cy="122.6" r="5.2" fill="url(#wsp)"/>
<circle cx="470" cy="121.3" r="5.2" fill="url(#wsp)"/>
<circle cx="485.8" cy="110.1" r="5.2" fill="url(#wsp)"/>
<ellipse cx="461.4" cy="49.8" rx="3.8" ry="5" transform="rotate(-89.4 461.4 49.8)" fill="url(#dsp)"/>
<ellipse cx="447.3" cy="56.4" rx="4" ry="5" transform="rotate(-114 447.3 56.4)" fill="url(#dsp)"/>
<ellipse cx="461" cy="58.9" rx="4.4" ry="5" transform="rotate(-90 461 58.9)" fill="url(#dsp)"/>
<ellipse cx="474.3" cy="55.6" rx="4" ry="5" transform="rotate(-67.2 474.3 55.6)" fill="url(#dsp)"/>
<ellipse cx="436.5" cy="68.1" rx="4" ry="5" transform="rotate(-142 436.5 68.1)" fill="url(#dsp)"/>
<ellipse cx="452" cy="70.6" rx="4.7" ry="5" transform="rotate(-118.4 452 70.6)" fill="url(#dsp)"/>
<ellipse cx="470" cy="70.6" rx="4.7" ry="5" transform="rotate(-61.6 470 70.6)" fill="url(#dsp)"/>
<ellipse cx="485.8" cy="67.2" rx="4" ry="5" transform="rotate(-38.8 485.8 67.2)" fill="url(#dsp)"/>
<ellipse cx="430" cy="83.5" rx="3.9" ry="5" transform="rotate(-173.1 430 83.5)" fill="url(#dsp)"/>
<ellipse cx="444.8" cy="86" rx="4.8" ry="5" transform="rotate(-175.6 444.8 86)" fill="url(#dsp)"/>
<ellipse cx="461.4" cy="90.1" rx="5" ry="5" transform="rotate(83 461.4 90.1)" fill="url(#dsp)"/>
<ellipse cx="476.8" cy="86" rx="4.8" ry="5" transform="rotate(-4.5 476.8 86)" fill="url(#dsp)"/>
<ellipse cx="490.9" cy="82.6" rx="4" ry="5" transform="rotate(-8.7 490.9 82.6)" fill="url(#dsp)"/>
<ellipse cx="435.8" cy="100.1" rx="4.2" ry="5" transform="rotate(152.9 435.8 100.1)" fill="url(#dsp)"/>
<ellipse cx="451.3" cy="105.9" rx="4.7" ry="5" transform="rotate(117.4 451.3 105.9)" fill="url(#dsp)"/>
<ellipse cx="470" cy="105.9" rx="4.7" ry="5" transform="rotate(64.3 470 105.9)" fill="url(#dsp)"/>
<ellipse cx="486.9" cy="100.1" rx="4.1" ry="5" transform="rotate(26.5 486.9 100.1)" fill="url(#dsp)"/>
<ellipse cx="441.9" cy="117.6" rx="3.8" ry="5" transform="rotate(122.1 441.9 117.6)" fill="url(#dsp)"/>
<ellipse cx="461" cy="120.5" rx="4.1" ry="5" transform="rotate(90 461 120.5)" fill="url(#dsp)"/>
<ellipse cx="477.9" cy="116.7" rx="3.9" ry="5" transform="rotate(60.2 477.9 116.7)" fill="url(#dsp)"/>
<ellipse cx="461" cy="87.2" rx="35.6" ry="41.2" fill="none" stroke="#4a4a4a" stroke-width="1.2" opacity="0.8"/>
<path d="M707.6,46.5 L708.9,45.5 L709.7,44.5 L709.6,43.5 L708.7,42.6 L707.2,41.7 L705.9,40.8 L705.1,39.8 L705.2,38.9 L706.1,37.9 L707.5,36.8 L708.8,35.8 L709.4,34.8 L709.1,33.8 L708,32.9 L706.5,32 L705.2,31.1 L704.6,30.1 L704.9,29.2 L706,28.1 L707.4,27.1 L708.6,26.1 L709,25.1 L708.5,24.2 L707.3,23.2 L705.8,22.3 L704.7,21.4 L704.2,20.4 L704.7,19.5 L705.9,18.4 L707.3,17.4 L708.4,16.4 L708.6,15.4 L707.9,14.5 L706.6,13.5 L705.2,12.6" fill="none" stroke="#f0a8b8" stroke-width="2.8" opacity="0.2" stroke-linejoin="round"/>
<path d="M707.6,46.5 L708.9,45.5 L709.7,44.5 L709.6,43.5 L708.7,42.6 L707.2,41.7 L705.9,40.8 L705.1,39.8 L705.2,38.9 L706.1,37.9 L707.5,36.8 L708.8,35.8 L709.4,34.8 L709.1,33.8 L708,32.9 L706.5,32 L705.2,31.1 L704.6,30.1 L704.9,29.2 L706,28.1 L707.4,27.1 L708.6,26.1 L709,25.1 L708.5,24.2 L707.3,23.2 L705.8,22.3 L704.7,21.4 L704.2,20.4 L704.7,19.5 L705.9,18.4 L707.3,17.4 L708.4,16.4 L708.6,15.4 L707.9,14.5 L706.6,13.5 L705.2,12.6" fill="none" stroke="#3c9eac" stroke-width="1.7" stroke-linejoin="round"/>
<path d="M731.5,56.9 L733.2,57.3 L734.5,57.2 L735.2,56.5 L735.2,55.2 L735,53.5 L734.8,51.9 L735,50.6 L735.9,50.1 L737.2,50.2 L738.9,50.6 L740.5,50.9 L741.7,50.7 L742.2,49.8 L742.2,48.4 L741.9,46.7 L741.8,45.1 L742.2,44 L743.1,43.6 L744.6,43.8 L746.3,44.2 L747.8,44.5 L748.8,44.1 L749.2,43.1 L749.2,41.6 L748.9,39.9 L748.8,38.4 L749.3,37.5 L750.4,37.2 L752,37.5 L753.7,37.9" fill="none" stroke="#f0a8b8" stroke-width="2.8" opacity="0.2" stroke-linejoin="round"/>
<path d="M731.5,56.9 L733.2,57.3 L734.5,57.2 L735.2,56.5 L735.2,55.2 L735,53.5 L734.8,51.9 L735,50.6 L735.9,50.1 L737.2,50.2 L738.9,50.6 L740.5,50.9 L741.7,50.7 L742.2,49.8 L742.2,48.4 L741.9,46.7 L741.8,45.1 L742.2,44 L743.1,43.6 L744.6,43.8 L746.3,44.2 L747.8,44.5 L748.8,44.1 L749.2,43.1 L749.2,41.6 L748.9,39.9 L748.8,38.4 L749.3,37.5 L750.4,37.2 L752,37.5 L753.7,37.9" fill="none" stroke="#3c9eac" stroke-width="1.7" stroke-linejoin="round"/>
<path d="M742.3,82.1 L743.4,83.4 L744.5,84.1 L745.4,83.9 L746.3,82.9 L747.2,81.4 L748,80 L749,79.2 L749.9,79.3 L751,80.3 L752.1,81.6 L753.2,82.8 L754.2,83.3 L755.2,82.9 L756,81.7 L756.9,80.2 L757.8,78.9 L758.7,78.4 L759.7,78.7 L760.8,79.8 L761.9,81.2 L762.9,82.3 L763.9,82.5 L764.9,81.9 L765.7,80.5 L766.6,79 L767.5,77.9 L768.4,77.6" fill="none" stroke="#f0a8b8" stroke-width="2.8" opacity="0.2" stroke-linejoin="round"/>
<path d="M742.3,82.1 L743.4,83.4 L744.5,84.1 L745.4,83.9 L746.3,82.9 L747.2,81.4 L748,80 L749,79.2 L749.9,79.3 L751,80.3 L752.1,81.6 L753.2,82.8 L754.2,83.3 L755.2,82.9 L756,81.7 L756.9,80.2 L757.8,78.9 L758.7,78.4 L759.7,78.7 L760.8,79.8 L761.9,81.2 L762.9,82.3 L763.9,82.5 L764.9,81.9 L765.7,80.5 L766.6,79 L767.5,77.9 L768.4,77.6" fill="none" stroke="#3c9eac" stroke-width="1.7" stroke-linejoin="round"/>
<path d="M732.4,114.6 L732.2,116.2 L732.4,117.5 L733.2,118.1 L734.5,118.1 L736.1,117.6 L737.7,117.2 L738.9,117.2 L739.6,117.9 L739.8,119.2 L739.6,120.9 L739.5,122.5 L739.7,123.7 L740.5,124.3 L741.9,124.2 L743.5,123.7 L745.1,123.3 L746.3,123.4 L746.9,124.2 L747,125.5 L746.8,127.2 L746.7,128.8 L747,130 L747.9,130.4 L749.3,130.3 L750.9,129.8 L752.5,129.5 L753.6,129.6 L754.2,130.4" fill="none" stroke="#f0a8b8" stroke-width="2.8" opacity="0.2" stroke-linejoin="round"/>
<path d="M732.4,114.6 L732.2,116.2 L732.4,117.5 L733.2,118.1 L734.5,118.1 L736.1,117.6 L737.7,117.2 L738.9,117.2 L739.6,117.9 L739.8,119.2 L739.6,120.9 L739.5,122.5 L739.7,123.7 L740.5,124.3 L741.9,124.2 L743.5,123.7 L745.1,123.3 L746.3,123.4 L746.9,124.2 L747,125.5 L746.8,127.2 L746.7,128.8 L747,130 L747.9,130.4 L749.3,130.3 L750.9,129.8 L752.5,129.5 L753.6,129.6 L754.2,130.4" fill="none" stroke="#3c9eac" stroke-width="1.7" stroke-linejoin="round"/>
<path d="M709.8,125.9 L708.5,126.9 L707.7,127.9 L707.8,128.8 L708.7,129.7 L710.1,130.6 L711.4,131.6 L712.3,132.5 L712.3,133.4 L711.4,134.4 L710.1,135.4 L708.8,136.4 L708,137.4 L708.2,138.4 L709.1,139.3 L710.5,140.2 L711.9,141.1 L712.7,142 L712.6,143 L711.7,144 L710.3,145 L709.1,146 L708.4,147 L708.5,147.9 L709.5,148.9 L711,149.8 L712.3,150.7 L713,151.6 L712.9,152.6 L712,153.6 L710.6,154.6 L709.3,155.6" fill="none" stroke="#f0a8b8" stroke-width="2.8" opacity="0.2" stroke-linejoin="round"/>
<path d="M709.8,125.9 L708.5,126.9 L707.7,127.9 L707.8,128.8 L708.7,129.7 L710.1,130.6 L711.4,131.6 L712.3,132.5 L712.3,133.4 L711.4,134.4 L710.1,135.4 L708.8,136.4 L708,137.4 L708.2,138.4 L709.1,139.3 L710.5,140.2 L711.9,141.1 L712.7,142 L712.6,143 L711.7,144 L710.3,145 L709.1,146 L708.4,147 L708.5,147.9 L709.5,148.9 L711,149.8 L712.3,150.7 L713,151.6 L712.9,152.6 L712,153.6 L710.6,154.6 L709.3,155.6" fill="none" stroke="#3c9eac" stroke-width="1.7" stroke-linejoin="round"/>
<path d="M685.3,114.7 L683.7,114.3 L682.4,114.2 L681.7,114.9 L681.5,116.2 L681.7,117.8 L681.9,119.5 L681.6,120.7 L680.9,121.3 L679.6,121.2 L677.9,120.8 L676.3,120.4 L675.1,120.5 L674.5,121.2 L674.3,122.5 L674.5,124.2 L674.6,125.8 L674.4,127 L673.6,127.5 L672.2,127.4 L670.6,126.9 L669,126.6 L667.8,126.7 L667.2,127.4 L667.1,128.8 L667.3,130.5 L667.4,132.1 L667.1,133.2 L666.3,133.7 L664.9,133.5" fill="none" stroke="#f0a8b8" stroke-width="2.8" opacity="0.2" stroke-linejoin="round"/>
<path d="M685.3,114.7 L683.7,114.3 L682.4,114.2 L681.7,114.9 L681.5,116.2 L681.7,117.8 L681.9,119.5 L681.6,120.7 L680.9,121.3 L679.6,121.2 L677.9,120.8 L676.3,120.4 L675.1,120.5 L674.5,121.2 L674.3,122.5 L674.5,124.2 L674.6,125.8 L674.4,127 L673.6,127.5 L672.2,127.4 L670.6,126.9 L669,126.6 L667.8,126.7 L667.2,127.4 L667.1,128.8 L667.3,130.5 L667.4,132.1 L667.1,133.2 L666.3,133.7 L664.9,133.5" fill="none" stroke="#3c9eac" stroke-width="1.7" stroke-linejoin="round"/>
<path d="M675.1,87.2 L674.1,85.9 L673.2,85.1 L672.2,85.1 L671.3,86 L670.3,87.3 L669.4,88.7 L668.5,89.6 L667.5,89.6 L666.6,88.8 L665.6,87.4 L664.6,86.1 L663.7,85.3 L662.7,85.3 L661.8,86.2 L660.8,87.5 L659.9,88.9 L659,89.8 L658,89.8 L657.1,89 L656.1,87.6 L655.1,86.3 L654.2,85.5 L653.2,85.5 L652.3,86.4 L651.3,87.7 L650.4,89.1 L649.5,90 L648.5,90" fill="none" stroke="#f0a8b8" stroke-width="2.8" opacity="0.2" stroke-linejoin="round"/>
<path d="M675.1,87.2 L674.1,85.9 L673.2,85.1 L672.2,85.1 L671.3,86 L670.3,87.3 L669.4,88.7 L668.5,89.6 L667.5,89.6 L666.6,88.8 L665.6,87.4 L664.6,86.1 L663.7,85.3 L662.7,85.3 L661.8,86.2 L660.8,87.5 L659.9,88.9 L659,89.8 L658,89.8 L657.1,89 L656.1,87.6 L655.1,86.3 L654.2,85.5 L653.2,85.5 L652.3,86.4 L651.3,87.7 L650.4,89.1 L649.5,90 L648.5,90" fill="none" stroke="#3c9eac" stroke-width="1.7" stroke-linejoin="round"/>
<path d="M685.9,57.1 L686.1,55.4 L686,54.1 L685.3,53.5 L684,53.5 L682.3,53.9 L680.7,54.2 L679.5,54.2 L678.8,53.5 L678.7,52.2 L678.9,50.5 L679.1,48.9 L678.9,47.7 L678.2,47.1 L676.8,47.1 L675.2,47.5 L673.6,47.8 L672.4,47.7 L671.8,47 L671.7,45.6 L671.9,44 L672.1,42.3 L671.9,41.2 L671.1,40.7 L669.7,40.7 L668,41.1 L666.5,41.4 L665.3,41.3 L664.7,40.5 L664.7,39.1 L664.9,37.4 L665.1,35.8 L664.8,34.7" fill="none" stroke="#f0a8b8" stroke-width="2.8" opacity="0.2" stroke-linejoin="round"/>
<path d="M685.9,57.1 L686.1,55.4 L686,54.1 L685.3,53.5 L684,53.5 L682.3,53.9 L680.7,54.2 L679.5,54.2 L678.8,53.5 L678.7,52.2 L678.9,50.5 L679.1,48.9 L678.9,47.7 L678.2,47.1 L676.8,47.1 L675.2,47.5 L673.6,47.8 L672.4,47.7 L671.8,47 L671.7,45.6 L671.9,44 L672.1,42.3 L671.9,41.2 L671.1,40.7 L669.7,40.7 L668,41.1 L666.5,41.4 L665.3,41.3 L664.7,40.5 L664.7,39.1 L664.9,37.4 L665.1,35.8 L664.8,34.7" fill="none" stroke="#3c9eac" stroke-width="1.7" stroke-linejoin="round"/>
<ellipse cx="706" cy="7.6" rx="6.5" ry="7.2" fill="#6fd0f5" opacity="0.3" filter="url(#blur1)"/>
<ellipse cx="706" cy="7.6" rx="5.1" ry="5.8" fill="url(#ball)"/>
<ellipse cx="756.7" cy="33.8" rx="6.5" ry="7.2" fill="#6fd0f5" opacity="0.3" filter="url(#blur1)"/>
<ellipse cx="756.7" cy="33.8" rx="5.1" ry="5.8" fill="url(#ball)"/>
<ellipse cx="773.6" cy="79.4" rx="6.5" ry="7.2" fill="#6fd0f5" opacity="0.3" filter="url(#blur1)"/>
<ellipse cx="773.6" cy="79.4" rx="5.1" ry="5.8" fill="url(#ball)"/>
<ellipse cx="756.7" cy="135.2" rx="6.5" ry="7.2" fill="#6fd0f5" opacity="0.3" filter="url(#blur1)"/>
<ellipse cx="756.7" cy="135.2" rx="5.1" ry="5.8" fill="url(#ball)"/>
<ellipse cx="711.1" cy="160.5" rx="6.5" ry="7.2" fill="#6fd0f5" opacity="0.3" filter="url(#blur1)"/>
<ellipse cx="711.1" cy="160.5" rx="5.1" ry="5.8" fill="url(#ball)"/>
<ellipse cx="660.4" cy="136" rx="6.5" ry="7.2" fill="#6fd0f5" opacity="0.3" filter="url(#blur1)"/>
<ellipse cx="660.4" cy="136" rx="5.1" ry="5.8" fill="url(#ball)"/>
<ellipse cx="643.5" cy="87.9" rx="6.5" ry="7.2" fill="#6fd0f5" opacity="0.3" filter="url(#blur1)"/>
<ellipse cx="643.5" cy="87.9" rx="5.1" ry="5.8" fill="url(#ball)"/>
<ellipse cx="659.6" cy="33" rx="6.5" ry="7.2" fill="#6fd0f5" opacity="0.3" filter="url(#blur1)"/>
<ellipse cx="659.6" cy="33" rx="5.1" ry="5.8" fill="url(#ball)"/>
<ellipse cx="708.8" cy="86.2" rx="34.4" ry="40.5" fill="url(#sphG)" stroke="#3a3a3a" stroke-width="1"/>
<circle cx="701.9" cy="50.6" r="5.4" fill="url(#wsp)"/>
<circle cx="701.9" cy="50.6" r="1.5" fill="#2a9a4a" opacity="0.85"/>
<circle cx="688.5" cy="57.9" r="5.4" fill="url(#wsp)"/>
<circle cx="688.5" cy="57.9" r="1.5" fill="#2a9a4a" opacity="0.85"/>
<circle cx="717.4" cy="59.5" r="5.4" fill="url(#wsp)"/>
<circle cx="717.4" cy="59.5" r="1.5" fill="#2a9a4a" opacity="0.85"/>
<circle cx="728.8" cy="59.1" r="5.4" fill="url(#wsp)"/>
<circle cx="728.8" cy="59.1" r="1.5" fill="#2a9a4a" opacity="0.85"/>
<circle cx="693.3" cy="66.8" r="5.4" fill="url(#wsp)"/>
<circle cx="693.3" cy="66.8" r="1.5" fill="#2a9a4a" opacity="0.85"/>
<circle cx="688.2" cy="76.1" r="5.4" fill="url(#wsp)"/>
<circle cx="688.2" cy="76.1" r="1.5" fill="#2a9a4a" opacity="0.85"/>
<circle cx="703.3" cy="78.5" r="5.4" fill="url(#wsp)"/>
<circle cx="703.3" cy="78.5" r="1.5" fill="#2a9a4a" opacity="0.85"/>
<circle cx="716.7" cy="78.5" r="5.4" fill="url(#wsp)"/>
<circle cx="716.7" cy="78.5" r="1.5" fill="#2a9a4a" opacity="0.85"/>
<circle cx="730.1" cy="74.9" r="5.4" fill="url(#wsp)"/>
<circle cx="730.1" cy="74.9" r="1.5" fill="#2a9a4a" opacity="0.85"/>
<circle cx="680.6" cy="91.5" r="5.4" fill="url(#wsp)"/>
<circle cx="680.6" cy="91.5" r="1.5" fill="#2a9a4a" opacity="0.85"/>
<circle cx="694" cy="95.5" r="5.4" fill="url(#wsp)"/>
<circle cx="694" cy="95.5" r="1.5" fill="#2a9a4a" opacity="0.85"/>
<circle cx="710.5" cy="97.5" r="5.4" fill="url(#wsp)"/>
<circle cx="710.5" cy="97.5" r="1.5" fill="#2a9a4a" opacity="0.85"/>
<circle cx="725" cy="96.3" r="5.4" fill="url(#wsp)"/>
<circle cx="725" cy="96.3" r="1.5" fill="#2a9a4a" opacity="0.85"/>
<circle cx="738.4" cy="90.2" r="5.4" fill="url(#wsp)"/>
<circle cx="738.4" cy="90.2" r="1.5" fill="#2a9a4a" opacity="0.85"/>
<circle cx="686.4" cy="108.5" r="5.4" fill="url(#wsp)"/>
<circle cx="686.4" cy="108.5" r="1.5" fill="#2a9a4a" opacity="0.85"/>
<circle cx="700.5" cy="120.6" r="5.4" fill="url(#wsp)"/>
<circle cx="700.5" cy="120.6" r="1.5" fill="#2a9a4a" opacity="0.85"/>
<circle cx="717.4" cy="119.4" r="5.4" fill="url(#wsp)"/>
<circle cx="717.4" cy="119.4" r="1.5" fill="#2a9a4a" opacity="0.85"/>
<circle cx="732.5" cy="108.5" r="5.4" fill="url(#wsp)"/>
<circle cx="732.5" cy="108.5" r="1.5" fill="#2a9a4a" opacity="0.85"/>
<ellipse cx="709.1" cy="49.8" rx="3.4" ry="4.5" transform="rotate(-89.5 709.1 49.8)" fill="#142a1a"/>
<ellipse cx="709.1" cy="49.8" rx="2.6" ry="3.4" transform="rotate(-89.5 709.1 49.8)" fill="url(#gsp)"/>
<ellipse cx="695.7" cy="56.2" rx="3.6" ry="4.5" transform="rotate(-113.6 695.7 56.2)" fill="#142a1a"/>
<ellipse cx="695.7" cy="56.2" rx="2.7" ry="3.4" transform="rotate(-113.6 695.7 56.2)" fill="url(#gsp)"/>
<ellipse cx="708.8" cy="58.7" rx="4" ry="4.5" transform="rotate(-90 708.8 58.7)" fill="#142a1a"/>
<ellipse cx="708.8" cy="58.7" rx="3" ry="3.4" transform="rotate(-90 708.8 58.7)" fill="url(#gsp)"/>
<ellipse cx="721.5" cy="55.4" rx="3.6" ry="4.5" transform="rotate(-67.5 721.5 55.4)" fill="#142a1a"/>
<ellipse cx="721.5" cy="55.4" rx="2.7" ry="3.4" transform="rotate(-67.5 721.5 55.4)" fill="url(#gsp)"/>
<ellipse cx="685.4" cy="67.6" rx="3.6" ry="4.5" transform="rotate(-141.5 685.4 67.6)" fill="#142a1a"/>
<ellipse cx="685.4" cy="67.6" rx="2.7" ry="3.4" transform="rotate(-141.5 685.4 67.6)" fill="url(#gsp)"/>
<ellipse cx="700.2" cy="70" rx="4.3" ry="4.5" transform="rotate(-118 700.2 70)" fill="#142a1a"/>
<ellipse cx="700.2" cy="70" rx="3.2" ry="3.4" transform="rotate(-118 700.2 70)" fill="url(#gsp)"/>
<ellipse cx="717.4" cy="70" rx="4.3" ry="4.5" transform="rotate(-62 717.4 70)" fill="#142a1a"/>
<ellipse cx="717.4" cy="70" rx="3.2" ry="3.4" transform="rotate(-62 717.4 70)" fill="url(#gsp)"/>
<ellipse cx="732.5" cy="66.8" rx="3.6" ry="4.5" transform="rotate(-39.3 732.5 66.8)" fill="#142a1a"/>
<ellipse cx="732.5" cy="66.8" rx="2.7" ry="3.4" transform="rotate(-39.3 732.5 66.8)" fill="url(#gsp)"/>
<ellipse cx="679.2" cy="82.6" rx="3.5" ry="4.5" transform="rotate(-173 679.2 82.6)" fill="#142a1a"/>
<ellipse cx="679.2" cy="82.6" rx="2.6" ry="3.4" transform="rotate(-173 679.2 82.6)" fill="url(#gsp)"/>
<ellipse cx="693.3" cy="85" rx="4.3" ry="4.5" transform="rotate(-175.5 693.3 85)" fill="#142a1a"/>
<ellipse cx="693.3" cy="85" rx="3.2" ry="3.4" transform="rotate(-175.5 693.3 85)" fill="url(#gsp)"/>
<ellipse cx="709.1" cy="89" rx="4.5" ry="4.5" transform="rotate(83.1 709.1 89)" fill="#142a1a"/>
<ellipse cx="709.1" cy="89" rx="3.4" ry="3.4" transform="rotate(83.1 709.1 89)" fill="url(#gsp)"/>
<ellipse cx="723.9" cy="85" rx="4.3" ry="4.5" transform="rotate(-4.6 723.9 85)" fill="#142a1a"/>
<ellipse cx="723.9" cy="85" rx="3.2" ry="3.4" transform="rotate(-4.6 723.9 85)" fill="url(#gsp)"/>
<ellipse cx="737.4" cy="81.7" rx="3.6" ry="4.5" transform="rotate(-8.9 737.4 81.7)" fill="#142a1a"/>
<ellipse cx="737.4" cy="81.7" rx="2.7" ry="3.4" transform="rotate(-8.9 737.4 81.7)" fill="url(#gsp)"/>
<ellipse cx="684.7" cy="98.8" rx="3.8" ry="4.5" transform="rotate(152.5 684.7 98.8)" fill="#142a1a"/>
<ellipse cx="684.7" cy="98.8" rx="2.9" ry="3.4" transform="rotate(152.5 684.7 98.8)" fill="url(#gsp)"/>
<ellipse cx="699.5" cy="104.4" rx="4.2" ry="4.5" transform="rotate(117 699.5 104.4)" fill="#142a1a"/>
<ellipse cx="699.5" cy="104.4" rx="3.2" ry="3.4" transform="rotate(117 699.5 104.4)" fill="url(#gsp)"/>
<ellipse cx="717.4" cy="104.4" rx="4.2" ry="4.5" transform="rotate(64.7 717.4 104.4)" fill="#142a1a"/>
<ellipse cx="717.4" cy="104.4" rx="3.2" ry="3.4" transform="rotate(64.7 717.4 104.4)" fill="url(#gsp)"/>
<ellipse cx="733.6" cy="98.8" rx="3.7" ry="4.5" transform="rotate(26.9 733.6 98.8)" fill="#142a1a"/>
<ellipse cx="733.6" cy="98.8" rx="2.8" ry="3.4" transform="rotate(26.9 733.6 98.8)" fill="url(#gsp)"/>
<ellipse cx="690.6" cy="115.8" rx="3.4" ry="4.5" transform="rotate(121.7 690.6 115.8)" fill="#142a1a"/>
<ellipse cx="690.6" cy="115.8" rx="2.6" ry="3.4" transform="rotate(121.7 690.6 115.8)" fill="url(#gsp)"/>
<ellipse cx="708.8" cy="118.6" rx="3.7" ry="4.5" transform="rotate(90 708.8 118.6)" fill="#142a1a"/>
<ellipse cx="708.8" cy="118.6" rx="2.8" ry="3.4" transform="rotate(90 708.8 118.6)" fill="url(#gsp)"/>
<ellipse cx="725" cy="115" rx="3.5" ry="4.5" transform="rotate(60.7 725 115)" fill="#142a1a"/>
<ellipse cx="725" cy="115" rx="2.7" ry="3.4" transform="rotate(60.7 725 115)" fill="url(#gsp)"/>
<ellipse cx="708.8" cy="86.2" rx="34" ry="40.1" fill="none" stroke="#4a4a4a" stroke-width="1.2" opacity="0.8"/>
<path d="M312.5,68.7 L314.1,67.3 L315.7,65.1 L317.2,63.1 L318.8,61.9 L320.5,62.2 L322.2,63.8 L323.9,65.9 L325.6,67.7 L327.2,68.4 L328.9,67.7 L330.4,65.8 L332,63.6 L333.6,61.9 L335.2,61.4 L336.9,62.3 L338.6,64.3 L340.3,66.4 L342,67.7 L343.6,67.8" fill="none" stroke="#3aa0b0" stroke-width="2.1" stroke-linecap="round"/>
<ellipse cx="349.5" cy="65.3" rx="7.7" ry="9" fill="#6fd0f5" opacity="0.3" filter="url(#blur1)"/>
<ellipse cx="349.5" cy="65.3" rx="6.3" ry="7.6" fill="url(#ball)"/>
<ellipse cx="567.8" cy="70.8" rx="6.4" ry="9.9" transform="rotate(-38 567.8 70.8)" fill="#e8f4e8" opacity="0.5" filter="url(#blur1)"/>
<ellipse cx="567.8" cy="70.8" rx="5.2" ry="8.7" transform="rotate(-38 567.8 70.8)" fill="url(#greenE)"/>
<ellipse cx="581.8" cy="64.5" rx="6.5" ry="11" transform="rotate(28 581.8 64.5)" fill="#e8f4e8" opacity="0.5" filter="url(#blur1)"/>
<ellipse cx="581.8" cy="64.5" rx="5.3" ry="9.8" transform="rotate(28 581.8 64.5)" fill="url(#greenE)"/>
<ellipse cx="595.9" cy="66.5" rx="5.9" ry="11.1" transform="rotate(5 595.9 66.5)" fill="#e8f4e8" opacity="0.5" filter="url(#blur1)"/>
<ellipse cx="595.9" cy="66.5" rx="4.7" ry="9.9" transform="rotate(5 595.9 66.5)" fill="url(#greenE)"/>
<text x="-0.5" y="263.5" font-size="45.65" font-weight="bold" fill="#000" textLength="31.97" lengthAdjust="spacingAndGlyphs">B</text>
<path d="M10.8,318.9 L11.7,321 L12.5,323.9 L13.4,326.6 L14.2,327.9 L15.1,327.4 L15.9,325.2 L16.8,322.3 L17.6,319.7 L18.5,318.5 L19.3,319.1 L20.2,321.4 L21,324.4 L21.9,326.9 L22.7,327.9 L23.6,327.1 L24.4,324.8 L25.3,321.8 L26.1,319.4 L27,318.5 L27.8,319.4 L28.7,321.8 L29.6,324.8 L30.4,327.1 L31.3,327.9 L32.1,326.9 L33,324.4 L33.8,321.4 L34.7,319.1 L35.5,318.5 L36.4,319.7 L37.2,322.2 L38.1,325.2 L38.9,327.4 L39.8,327.9 L40.6,326.6 L41.5,323.9 L42.3,321 L43.2,318.9 L44,318.5 L44.9,320" fill="none" stroke="#1c4f8c" stroke-width="2.3" stroke-linecap="round"/>
<g transform="translate(45.5 321.5) rotate(0)">
<use href="#dend" transform="scale(1 1)"/>
<use href="#cone1" transform="translate(11 -23.2) rotate(-78) scale(1.3)"/>
<use href="#cone1" transform="translate(20.3 -17.6) rotate(-32) scale(1.3)"/>
<use href="#cone1" transform="translate(11 22.4) rotate(78) scale(1.3)"/>
<use href="#cone1" transform="translate(19.5 15.5) rotate(32) scale(1.3)"/>
</g>
<text x="24.1" y="379.1" font-size="11.31" font-weight="bold" fill="#111" stroke="#111" stroke-width="0.2" textLength="38.92" lengthAdjust="spacingAndGlyphs">(FADP)</text>
<text x="83.2" y="326.1" font-size="9.93" font-weight="bold" fill="#111" stroke="#111" stroke-width="0.2" textLength="67.59" lengthAdjust="spacingAndGlyphs">Self-Assembly</text>
<path d="M86,335.3 L143.5,335.3 L141,332.6 L146,337.6 L141,342.6 L143.5,339.9 L86,339.9 Z" fill="url(#hollowA)" stroke="#6c6c6c" stroke-width="1.1" stroke-linejoin="miter"/>
<circle cx="215" cy="320.2" r="48" fill="url(#mic)"/>
<path d="M211.1,317.1 L212.6,316.6 L213.6,316.1 L213.6,315.5 L212.8,314.8 L211.3,314 L210,313.2 L209.2,312.5 L209.3,311.8 L210.4,311.3 L212,310.9 L213.5,310.4 L214.3,309.9 L214.3,309.2 L213.3,308.5 L211.9,307.7 L210.5,306.9 L209.8,306.2 L210.1,305.6 L211.2,305.1 L212.8,304.7 L214.3,304.2 L215.1,303.7 L214.9,303 L213.9,302.3 L212.4,301.5 L211.1,300.7 L210.5,300 L210.9,299.4 L212.1,298.9 L213.7,298.5 L215.1,298 L215.8,297.4 L215.5,296.8 L214.4,296 L212.9,295.2 L211.7,294.4 L211.2,293.8 L211.7,293.2 L213,292.7 L214.6,292.2 L215.9,291.8 L216.5,291.2 L216.1,290.5 L214.9,289.8 L213.5,289 L212.3,288.2 L211.9,287.5 L212.5,287 L213.8,286.5 L215.4,286 L216.7,285.5 L217.2,285 L216.7,284.3 L215.5,283.5 L214,282.7 L212.9,282" fill="none" stroke="#18458c" stroke-width="1.9" stroke-linecap="round"/>
<path d="M215.7,315.3 L216.9,316.4 L217.8,316.9 L218.4,316.7 L218.6,315.5 L218.6,313.9 L218.6,312.3 L218.8,311.3 L219.4,311.1 L220.4,311.8 L221.5,312.9 L222.7,314 L223.6,314.5 L224.1,314.1 L224.3,312.9 L224.2,311.2 L224.3,309.7 L224.5,308.7 L225.2,308.7 L226.2,309.4 L227.4,310.6 L228.5,311.6 L229.4,312 L229.8,311.5 L230,310.2 L229.9,308.6 L229.9,307.1 L230.3,306.2 L230.9,306.2 L232,307 L233.2,308.2 L234.3,309.2 L235.1,309.5 L235.5,308.9 L235.6,307.6 L235.6,305.9 L235.6,304.4 L236,303.7 L236.7,303.8 L237.8,304.7 L239,305.9 L240.1,306.8 L240.9,307 L241.3,306.3 L241.3,304.9 L241.3,303.2 L241.3,301.8 L241.7,301.2 L242.5,301.4 L243.6,302.3 L244.8,303.5 L245.9,304.4 L246.6,304.5 L247,303.7 L247,302.3 L247,300.6 L247.1,299.2" fill="none" stroke="#18458c" stroke-width="1.9" stroke-linecap="round"/>
<path d="M219.6,318.4 L219.3,319.9 L219.2,321 L219.8,321.4 L220.8,321 L222.2,320.2 L223.6,319.3 L224.6,319 L225.1,319.5 L225,320.6 L224.6,322.2 L224.2,323.8 L224.3,324.8 L224.8,325 L226,324.6 L227.4,323.7 L228.7,323 L229.7,322.7 L230.1,323.2 L229.9,324.5 L229.5,326.1 L229.2,327.6 L229.3,328.5 L229.9,328.7 L231.1,328.2 L232.5,327.3 L233.8,326.6 L234.7,326.4 L235.1,327 L234.9,328.3 L234.5,329.9 L234.2,331.4 L234.3,332.3 L235,332.4 L236.2,331.8 L237.7,330.9 L239,330.2 L239.8,330.1 L240.1,330.8 L239.8,332.2 L239.4,333.8 L239.2,335.2 L239.4,336 L240.1,336 L241.4,335.4 L242.8,334.5 L244.1,333.8 L244.9,333.8 L245,334.6 L244.8,336 L244.4,337.7 L244.1,339 L244.4,339.7 L245.3,339.6 L246.5,338.9 L248,338.1 L249.2,337.5" fill="none" stroke="#18458c" stroke-width="1.9" stroke-linecap="round"/>
<path d="M218.9,323.3 L217.4,323.8 L216.4,324.3 L216.4,324.9 L217.2,325.6 L218.7,326.4 L220,327.2 L220.8,327.9 L220.7,328.6 L219.6,329.1 L218,329.5 L216.5,330 L215.7,330.5 L215.7,331.2 L216.7,331.9 L218.1,332.7 L219.5,333.5 L220.2,334.2 L219.9,334.8 L218.8,335.3 L217.2,335.7 L215.7,336.2 L214.9,336.7 L215.1,337.4 L216.1,338.1 L217.6,338.9 L218.9,339.7 L219.5,340.4 L219.1,341 L217.9,341.5 L216.3,341.9 L214.9,342.4 L214.2,343 L214.5,343.6 L215.6,344.4 L217.1,345.2 L218.3,346 L218.8,346.6 L218.3,347.2 L217,347.7 L215.4,348.2 L214.1,348.6 L213.5,349.2 L213.9,349.9 L215.1,350.6 L216.5,351.4 L217.7,352.2 L218.1,352.9 L217.5,353.4 L216.2,353.9 L214.6,354.4 L213.3,354.9 L212.8,355.4 L213.3,356.1 L214.5,356.9 L216,357.7 L217.1,358.4" fill="none" stroke="#18458c" stroke-width="1.9" stroke-linecap="round"/>
<path d="M214.3,325.1 L213.1,324 L212.2,323.5 L211.6,323.7 L211.4,324.9 L211.4,326.5 L211.4,328.1 L211.2,329.1 L210.6,329.3 L209.6,328.6 L208.5,327.5 L207.3,326.4 L206.4,325.9 L205.9,326.3 L205.7,327.5 L205.8,329.2 L205.7,330.7 L205.5,331.7 L204.8,331.7 L203.8,331 L202.6,329.8 L201.5,328.8 L200.6,328.4 L200.2,328.9 L200,330.2 L200.1,331.8 L200.1,333.3 L199.7,334.2 L199.1,334.2 L198,333.4 L196.8,332.2 L195.7,331.2 L194.9,330.9 L194.5,331.5 L194.4,332.8 L194.4,334.5 L194.4,336 L194,336.7 L193.3,336.6 L192.2,335.7 L191,334.5 L189.9,333.6 L189.1,333.4 L188.7,334.1 L188.7,335.5 L188.7,337.2 L188.7,338.6 L188.3,339.2 L187.5,339 L186.4,338.1 L185.2,336.9 L184.1,336 L183.4,335.9 L183,336.7 L183,338.1 L183,339.8 L182.9,341.2" fill="none" stroke="#18458c" stroke-width="1.9" stroke-linecap="round"/>
<path d="M210.4,322 L210.7,320.5 L210.8,319.4 L210.2,319 L209.2,319.4 L207.8,320.2 L206.4,321.1 L205.4,321.4 L204.9,320.9 L205,319.8 L205.4,318.2 L205.8,316.6 L205.7,315.6 L205.2,315.4 L204,315.8 L202.6,316.7 L201.3,317.4 L200.3,317.7 L199.9,317.2 L200.1,315.9 L200.5,314.3 L200.8,312.8 L200.7,311.9 L200.1,311.7 L198.9,312.2 L197.5,313.1 L196.2,313.8 L195.3,314 L194.9,313.4 L195.1,312.1 L195.5,310.5 L195.8,309 L195.7,308.1 L195,308 L193.8,308.6 L192.3,309.5 L191,310.2 L190.2,310.3 L189.9,309.6 L190.2,308.2 L190.6,306.6 L190.8,305.2 L190.6,304.4 L189.9,304.4 L188.6,305 L187.2,305.9 L185.9,306.6 L185.1,306.6 L185,305.8 L185.2,304.4 L185.6,302.7 L185.9,301.4 L185.6,300.7 L184.7,300.8 L183.5,301.5 L182,302.3 L180.8,302.9" fill="none" stroke="#18458c" stroke-width="1.9" stroke-linecap="round"/>
<path d="M212.2,312.7 L213.7,312.9 L214.7,312.8 L215,312.3 L214.5,311.4 L213.6,310.2 L212.7,309 L212.3,308.1 L212.7,307.7 L213.8,307.7 L215.3,307.9 L216.7,308.1 L217.6,308 L217.8,307.4 L217.3,306.4 L216.3,305.2 L215.5,304.1 L215.2,303.2 L215.6,302.8 L216.8,302.9 L218.3,303.1 L219.7,303.3 L220.5,303.1 L220.6,302.5 L220,301.5 L219,300.2 L218.3,299.1 L218,298.3 L218.6,298 L219.8,298.1 L221.3,298.3 L222.7,298.4 L223.4,298.2 L223.4,297.5 L222.7,296.5 L221.8,295.3 L221,294.2 L220.9,293.4 L221.6,293.2 L222.8,293.3 L224.4,293.5 L225.7,293.6 L226.3,293.3 L226.2,292.6 L225.4,291.5 L224.5,290.3 L223.8,289.2 L223.8,288.6 L224.5,288.3 L225.9,288.5 L227.4,288.7" fill="none" stroke="#18458c" stroke-width="1.8" stroke-linecap="round"/>
<path d="M215,310.2 L216.2,311 L217.1,311.4 L217.6,311.1 L217.6,310 L217.3,308.5 L217,307.1 L217,306.1 L217.6,305.9 L218.5,306.3 L219.8,307.2 L221,308 L221.9,308.3 L222.3,307.8 L222.2,306.7 L221.9,305.2 L221.6,303.8 L221.7,302.9 L222.3,302.8 L223.3,303.3 L224.6,304.2 L225.8,304.9 L226.6,305.1 L226.9,304.6 L226.8,303.4 L226.5,301.9 L226.3,300.5 L226.4,299.8 L227.1,299.7 L228.1,300.3 L229.4,301.2 L230.6,301.9 L231.3,302 L231.6,301.3 L231.4,300.1 L231.1,298.6 L230.9,297.3 L231.1,296.6 L231.8,296.6 L233,297.3 L234.2,298.2 L235.3,298.8" fill="none" stroke="#18458c" stroke-width="1.8" stroke-linecap="round"/>
<path d="M220.1,314.1 L220.7,315.4 L221.2,316.3 L221.8,316.2 L222.4,315.4 L223,314 L223.5,312.7 L224.1,311.9 L224.7,312 L225.2,312.9 L225.8,314.3 L226.4,315.6 L226.9,316.4 L227.5,316.2 L228.1,315.3 L228.6,313.9 L229.2,312.6 L229.8,311.9 L230.4,312.1 L230.9,313.1 L231.5,314.5 L232,315.8 L232.6,316.4 L233.2,316.2 L233.7,315.1 L234.3,313.7 L234.9,312.5 L235.5,311.9 L236,312.2 L236.6,313.3 L237.1,314.7 L237.7,316 L238.3,316.5 L238.8,316.1 L239.4,315 L240,313.6 L240.6,312.4 L241.1,311.9 L241.7,312.4 L242.3,313.5 L242.8,315 L243.4,316.1 L243.9,316.6 L244.5,316.1 L245.1,314.9 L245.7,313.5 L246.2,312.4 L246.8,312 L247.4,312.5 L247.9,313.7 L248.5,315.2" fill="none" stroke="#18458c" stroke-width="1.8" stroke-linecap="round"/>
<path d="M223.7,315.2 L223.6,316.7 L223.7,317.7 L224.2,317.9 L225.1,317.3 L226.2,316.3 L227.3,315.4 L228.2,314.9 L228.7,315.3 L228.8,316.3 L228.7,317.8 L228.6,319.3 L228.8,320.2 L229.4,320.3 L230.3,319.7 L231.4,318.7 L232.5,317.8 L233.3,317.4 L233.7,317.8 L233.8,319 L233.7,320.5 L233.6,321.9 L233.9,322.7 L234.5,322.7 L235.5,322 L236.6,321 L237.7,320.1 L238.4,319.9 L238.8,320.4 L238.8,321.6 L238.7,323.2 L238.7,324.5 L238.9,325.2 L239.6,325.1 L240.6,324.4 L241.8,323.3 L242.8,322.5 L243.5,322.3 L243.8,323 L243.8,324.3 L243.7,325.8 L243.7,327.1" fill="none" stroke="#18458c" stroke-width="1.8" stroke-linecap="round"/>
<path d="M222.9,321.6 L222,322.7 L221.5,323.6 L221.8,324.1 L222.9,324.2 L224.4,324 L225.8,323.8 L226.8,323.9 L227,324.5 L226.5,325.4 L225.5,326.6 L224.6,327.7 L224.3,328.6 L224.7,329 L225.8,329 L227.3,328.8 L228.7,328.7 L229.6,328.8 L229.7,329.4 L229.1,330.4 L228.2,331.6 L227.3,332.7 L227,333.6 L227.5,333.9 L228.7,333.9 L230.3,333.7 L231.6,333.6 L232.4,333.8 L232.4,334.4 L231.8,335.4 L230.8,336.6 L230,337.7 L229.8,338.5 L230.4,338.8 L231.7,338.7 L233.2,338.5 L234.5,338.4 L235.2,338.7 L235.1,339.4 L234.4,340.5 L233.4,341.7 L232.7,342.7 L232.6,343.4 L233.3,343.7 L234.6,343.6 L236.2,343.4 L237.4,343.3 L238,343.6 L237.8,344.4 L237.1,345.5 L236.1,346.7" fill="none" stroke="#18458c" stroke-width="1.8" stroke-linecap="round"/>
<path d="M223.7,325.2 L222.3,325.8 L221.6,326.5 L221.6,327 L222.5,327.5 L224,328 L225.3,328.5 L226.2,329 L226.1,329.6 L225.2,330.2 L223.9,330.9 L222.6,331.5 L221.9,332.1 L222.1,332.7 L223.1,333.2 L224.5,333.7 L225.9,334.1 L226.6,334.7 L226.4,335.2 L225.4,335.9 L224.1,336.5 L222.8,337.2 L222.2,337.8 L222.6,338.3 L223.6,338.8 L225.1,339.3 L226.4,339.8 L227,340.3 L226.7,340.9 L225.7,341.5 L224.3,342.2 L223.1,342.9 L222.6,343.5 L223,344 L224.2,344.5 L225.7,344.9 L226.9,345.4 L227.4,346 L227,346.6 L225.9,347.2 L224.5,347.9 L223.4,348.5" fill="none" stroke="#18458c" stroke-width="1.8" stroke-linecap="round"/>
<path d="M217.8,327.7 L216.3,327.5 L215.3,327.6 L215,328.1 L215.5,329 L216.4,330.2 L217.3,331.4 L217.7,332.3 L217.3,332.7 L216.2,332.7 L214.7,332.5 L213.3,332.3 L212.4,332.4 L212.2,333 L212.7,334 L213.7,335.2 L214.5,336.3 L214.8,337.2 L214.4,337.6 L213.2,337.5 L211.7,337.3 L210.3,337.1 L209.5,337.3 L209.4,337.9 L210,338.9 L211,340.2 L211.7,341.3 L212,342.1 L211.4,342.4 L210.2,342.3 L208.7,342.1 L207.3,342 L206.6,342.2 L206.6,342.9 L207.3,343.9 L208.2,345.1 L209,346.2 L209.1,347 L208.4,347.2 L207.2,347.1 L205.6,346.9 L204.3,346.8 L203.7,347.1 L203.8,347.8 L204.6,348.9 L205.5,350.1 L206.2,351.2 L206.2,351.8 L205.5,352.1 L204.1,351.9 L202.6,351.7" fill="none" stroke="#18458c" stroke-width="1.8" stroke-linecap="round"/>
<path d="M215,330.2 L213.8,329.4 L212.9,329 L212.4,329.3 L212.4,330.4 L212.7,331.9 L213,333.3 L213,334.3 L212.4,334.5 L211.5,334.1 L210.2,333.2 L209,332.4 L208.1,332.1 L207.7,332.6 L207.8,333.7 L208.1,335.2 L208.4,336.6 L208.3,337.5 L207.7,337.6 L206.7,337.1 L205.4,336.2 L204.2,335.5 L203.4,335.3 L203.1,335.8 L203.2,337 L203.5,338.5 L203.7,339.9 L203.6,340.6 L202.9,340.7 L201.9,340.1 L200.6,339.2 L199.4,338.5 L198.7,338.4 L198.4,339.1 L198.6,340.3 L198.9,341.8 L199.1,343.1 L198.9,343.8 L198.2,343.8 L197,343.1 L195.8,342.2 L194.7,341.6" fill="none" stroke="#18458c" stroke-width="1.8" stroke-linecap="round"/>
<path d="M209.9,326.3 L209.3,325 L208.8,324.1 L208.2,324.2 L207.6,325 L207,326.4 L206.5,327.7 L205.9,328.5 L205.3,328.4 L204.8,327.5 L204.2,326.1 L203.6,324.8 L203.1,324 L202.5,324.2 L201.9,325.1 L201.4,326.5 L200.8,327.8 L200.2,328.5 L199.6,328.3 L199.1,327.3 L198.5,325.9 L198,324.6 L197.4,324 L196.8,324.2 L196.3,325.3 L195.7,326.7 L195.1,327.9 L194.5,328.5 L194,328.2 L193.4,327.1 L192.9,325.7 L192.3,324.4 L191.7,323.9 L191.2,324.3 L190.6,325.4 L190,326.8 L189.4,328 L188.9,328.5 L188.3,328 L187.7,326.9 L187.2,325.4 L186.6,324.3 L186.1,323.8 L185.5,324.3 L184.9,325.5 L184.3,326.9 L183.8,328 L183.2,328.4 L182.6,327.9 L182.1,326.7 L181.5,325.2" fill="none" stroke="#18458c" stroke-width="1.8" stroke-linecap="round"/>
<path d="M206.3,325.2 L206.4,323.7 L206.3,322.7 L205.8,322.5 L204.9,323.1 L203.8,324.1 L202.7,325 L201.8,325.5 L201.3,325.1 L201.2,324.1 L201.3,322.6 L201.4,321.1 L201.2,320.2 L200.6,320.1 L199.7,320.7 L198.6,321.7 L197.5,322.6 L196.7,323 L196.3,322.6 L196.2,321.4 L196.3,319.9 L196.4,318.5 L196.1,317.7 L195.5,317.7 L194.5,318.4 L193.4,319.4 L192.3,320.3 L191.6,320.5 L191.2,320 L191.2,318.8 L191.3,317.2 L191.3,315.9 L191.1,315.2 L190.4,315.3 L189.4,316 L188.2,317.1 L187.2,317.9 L186.5,318.1 L186.2,317.4 L186.2,316.1 L186.3,314.6 L186.3,313.3" fill="none" stroke="#18458c" stroke-width="1.8" stroke-linecap="round"/>
<path d="M207.1,318.8 L208,317.7 L208.5,316.8 L208.2,316.3 L207.1,316.2 L205.6,316.4 L204.2,316.6 L203.2,316.5 L203,315.9 L203.5,315 L204.5,313.8 L205.4,312.7 L205.7,311.8 L205.3,311.4 L204.2,311.4 L202.7,311.6 L201.3,311.7 L200.4,311.6 L200.3,311 L200.9,310 L201.8,308.8 L202.7,307.7 L203,306.8 L202.5,306.5 L201.3,306.5 L199.7,306.7 L198.4,306.8 L197.6,306.6 L197.6,306 L198.2,305 L199.2,303.8 L200,302.7 L200.2,301.9 L199.6,301.6 L198.3,301.7 L196.8,301.9 L195.5,302 L194.8,301.7 L194.9,301 L195.6,299.9 L196.6,298.7 L197.3,297.7 L197.4,297 L196.7,296.7 L195.4,296.8 L193.8,297 L192.6,297.1 L192,296.8 L192.2,296 L192.9,294.9 L193.9,293.7" fill="none" stroke="#18458c" stroke-width="1.8" stroke-linecap="round"/>
<path d="M206.3,315.2 L207.7,314.6 L208.4,313.9 L208.4,313.4 L207.5,312.9 L206,312.4 L204.7,311.9 L203.8,311.4 L203.9,310.8 L204.8,310.2 L206.1,309.5 L207.4,308.9 L208.1,308.3 L207.9,307.7 L206.9,307.2 L205.5,306.7 L204.1,306.3 L203.4,305.7 L203.6,305.2 L204.6,304.5 L205.9,303.9 L207.2,303.2 L207.8,302.6 L207.4,302.1 L206.4,301.6 L204.9,301.1 L203.6,300.6 L203,300.1 L203.3,299.5 L204.3,298.9 L205.7,298.2 L206.9,297.5 L207.4,296.9 L207,296.4 L205.8,295.9 L204.3,295.5 L203.1,295 L202.6,294.4 L203,293.8 L204.1,293.2 L205.5,292.5 L206.6,291.9" fill="none" stroke="#18458c" stroke-width="1.8" stroke-linecap="round"/>
<use href="#dendM" transform="translate(215 281.7) rotate(-90) scale(1.04)"/>
<use href="#dendM" transform="translate(248.3 300.9) rotate(-30) scale(1.04)"/>
<use href="#dendM" transform="translate(248.3 339.4) rotate(30) scale(1.04)"/>
<use href="#dendM" transform="translate(215 358.7) rotate(90) scale(1.04)"/>
<use href="#dendM" transform="translate(181.7 339.4) rotate(150) scale(1.04)"/>
<use href="#dendM" transform="translate(181.7 300.9) rotate(210) scale(1.04)"/>
<circle cx="308.7" cy="317.4" r="5.8" fill="url(#redB)"/>
<circle cx="336" cy="317.4" r="5.8" fill="url(#brB)"/>
<path d="M287.5,336.4 L356,336.4 L353.5,333.7 L358.5,338.7 L353.5,343.7 L356,341 L287.5,341 Z" fill="url(#hollowA)" stroke="#6c6c6c" stroke-width="1.1" stroke-linejoin="miter"/>
<text x="297.8" y="360.3" font-size="8.69" font-weight="bold" fill="#111" stroke="#111" stroke-width="0.2" textLength="40.80" lengthAdjust="spacingAndGlyphs">Physical</text>
<text x="281.7" y="375.5" font-size="9.10" font-weight="bold" fill="#111" stroke="#111" stroke-width="0.2" textLength="80.07" lengthAdjust="spacingAndGlyphs">Encapsulation of</text>
<text x="276.8" y="389.6" font-size="9.24" font-weight="bold" fill="#111" stroke="#111" stroke-width="0.2" textLength="90.95" lengthAdjust="spacingAndGlyphs">Ce6 and CORM-401</text>
<circle cx="427.7" cy="318.6" r="48" fill="url(#mic)"/>
<path d="M423.8,315.5 L425.3,315 L426.3,314.5 L426.3,313.9 L425.5,313.2 L424,312.4 L422.7,311.6 L421.9,310.9 L422,310.2 L423.1,309.7 L424.7,309.3 L426.2,308.8 L427,308.3 L427,307.6 L426,306.9 L424.6,306.1 L423.2,305.3 L422.5,304.6 L422.8,304 L423.9,303.5 L425.5,303.1 L427,302.6 L427.8,302.1 L427.6,301.4 L426.6,300.7 L425.1,299.9 L423.8,299.1 L423.2,298.4 L423.6,297.8 L424.8,297.3 L426.4,296.9 L427.8,296.4 L428.5,295.8 L428.2,295.2 L427.1,294.4 L425.6,293.6 L424.4,292.8 L423.9,292.2 L424.4,291.6 L425.7,291.1 L427.3,290.6 L428.6,290.2 L429.2,289.6 L428.8,288.9 L427.6,288.2 L426.2,287.4 L425,286.6 L424.6,285.9 L425.2,285.4 L426.5,284.9 L428.1,284.4 L429.4,283.9 L429.9,283.4 L429.4,282.7 L428.2,281.9 L426.7,281.1 L425.6,280.4" fill="none" stroke="#18458c" stroke-width="1.9" stroke-linecap="round"/>
<path d="M428.4,313.7 L429.6,314.8 L430.5,315.3 L431.1,315.1 L431.3,313.9 L431.3,312.3 L431.3,310.7 L431.5,309.7 L432.1,309.5 L433.1,310.2 L434.2,311.3 L435.4,312.4 L436.3,312.9 L436.8,312.5 L437,311.3 L436.9,309.6 L437,308.1 L437.2,307.1 L437.9,307.1 L438.9,307.8 L440.1,309 L441.2,310 L442.1,310.4 L442.5,309.9 L442.7,308.6 L442.6,307 L442.6,305.5 L443,304.6 L443.6,304.6 L444.7,305.4 L445.9,306.6 L447,307.6 L447.8,307.9 L448.2,307.3 L448.3,306 L448.3,304.3 L448.3,302.8 L448.7,302.1 L449.4,302.2 L450.5,303.1 L451.7,304.3 L452.8,305.2 L453.6,305.4 L454,304.7 L454,303.3 L454,301.6 L454,300.2 L454.4,299.6 L455.2,299.8 L456.3,300.7 L457.5,301.9 L458.6,302.8 L459.3,302.9 L459.7,302.1 L459.7,300.7 L459.7,299 L459.8,297.6" fill="none" stroke="#18458c" stroke-width="1.9" stroke-linecap="round"/>
<path d="M432.3,316.8 L432,318.3 L431.9,319.4 L432.5,319.8 L433.5,319.4 L434.9,318.6 L436.3,317.7 L437.3,317.4 L437.8,317.9 L437.7,319 L437.3,320.6 L436.9,322.2 L437,323.2 L437.5,323.4 L438.7,323 L440.1,322.1 L441.4,321.4 L442.4,321.1 L442.8,321.6 L442.6,322.9 L442.2,324.5 L441.9,326 L442,326.9 L442.6,327.1 L443.8,326.6 L445.2,325.7 L446.5,325 L447.4,324.8 L447.8,325.4 L447.6,326.7 L447.2,328.3 L446.9,329.8 L447,330.7 L447.7,330.8 L448.9,330.2 L450.4,329.3 L451.7,328.6 L452.5,328.5 L452.8,329.2 L452.5,330.6 L452.1,332.2 L451.9,333.6 L452.1,334.4 L452.8,334.4 L454.1,333.8 L455.5,332.9 L456.8,332.2 L457.6,332.2 L457.7,333 L457.5,334.4 L457.1,336.1 L456.8,337.4 L457.1,338.1 L458,338 L459.2,337.3 L460.7,336.5 L461.9,335.9" fill="none" stroke="#18458c" stroke-width="1.9" stroke-linecap="round"/>
<path d="M431.6,321.7 L430.1,322.2 L429.1,322.7 L429.1,323.3 L429.9,324 L431.4,324.8 L432.7,325.6 L433.5,326.3 L433.4,327 L432.3,327.5 L430.7,327.9 L429.2,328.4 L428.4,328.9 L428.4,329.6 L429.4,330.3 L430.8,331.1 L432.2,331.9 L432.9,332.6 L432.6,333.2 L431.5,333.7 L429.9,334.1 L428.4,334.6 L427.6,335.1 L427.8,335.8 L428.8,336.5 L430.3,337.3 L431.6,338.1 L432.2,338.8 L431.8,339.4 L430.6,339.9 L429,340.3 L427.6,340.8 L426.9,341.4 L427.2,342 L428.3,342.8 L429.8,343.6 L431,344.4 L431.5,345 L431,345.6 L429.7,346.1 L428.1,346.6 L426.8,347 L426.2,347.6 L426.6,348.3 L427.8,349 L429.2,349.8 L430.4,350.6 L430.8,351.3 L430.2,351.8 L428.9,352.3 L427.3,352.8 L426,353.3 L425.5,353.8 L426,354.5 L427.2,355.3 L428.7,356.1 L429.8,356.8" fill="none" stroke="#18458c" stroke-width="1.9" stroke-linecap="round"/>
<path d="M427,323.5 L425.8,322.4 L424.9,321.9 L424.3,322.1 L424.1,323.3 L424.1,324.9 L424.1,326.5 L423.9,327.5 L423.3,327.7 L422.3,327 L421.2,325.9 L420,324.8 L419.1,324.3 L418.6,324.7 L418.4,325.9 L418.5,327.6 L418.4,329.1 L418.2,330.1 L417.5,330.1 L416.5,329.4 L415.3,328.2 L414.2,327.2 L413.3,326.8 L412.9,327.3 L412.7,328.6 L412.8,330.2 L412.8,331.7 L412.4,332.6 L411.8,332.6 L410.7,331.8 L409.5,330.6 L408.4,329.6 L407.6,329.3 L407.2,329.9 L407.1,331.2 L407.1,332.9 L407.1,334.4 L406.7,335.1 L406,335 L404.9,334.1 L403.7,332.9 L402.6,332 L401.8,331.8 L401.4,332.5 L401.4,333.9 L401.4,335.6 L401.4,337 L401,337.6 L400.2,337.4 L399.1,336.5 L397.9,335.3 L396.8,334.4 L396.1,334.3 L395.7,335.1 L395.7,336.5 L395.7,338.2 L395.6,339.6" fill="none" stroke="#18458c" stroke-width="1.9" stroke-linecap="round"/>
<path d="M423.1,320.4 L423.4,318.9 L423.5,317.8 L422.9,317.4 L421.9,317.8 L420.5,318.6 L419.1,319.5 L418.1,319.8 L417.6,319.3 L417.7,318.2 L418.1,316.6 L418.5,315 L418.4,314 L417.9,313.8 L416.7,314.2 L415.3,315.1 L414,315.8 L413,316.1 L412.6,315.6 L412.8,314.3 L413.2,312.7 L413.5,311.2 L413.4,310.3 L412.8,310.1 L411.6,310.6 L410.2,311.5 L408.9,312.2 L408,312.4 L407.6,311.8 L407.8,310.5 L408.2,308.9 L408.5,307.4 L408.4,306.5 L407.7,306.4 L406.5,307 L405,307.9 L403.7,308.6 L402.9,308.7 L402.6,308 L402.9,306.6 L403.3,305 L403.5,303.6 L403.3,302.8 L402.6,302.8 L401.3,303.4 L399.9,304.3 L398.6,305 L397.8,305 L397.7,304.2 L397.9,302.8 L398.3,301.1 L398.6,299.8 L398.3,299.1 L397.4,299.2 L396.2,299.9 L394.7,300.7 L393.5,301.3" fill="none" stroke="#18458c" stroke-width="1.9" stroke-linecap="round"/>
<path d="M425.6,306.8 L426.9,307.5 L427.9,307.8 L428.3,307.4 L428.2,306.3 L427.7,304.9 L427.3,303.5 L427.2,302.5 L427.8,302.2 L428.8,302.6 L430.1,303.3 L431.4,304 L432.3,304.2 L432.6,303.7 L432.4,302.5 L431.9,301.1 L431.6,299.7 L431.6,298.9 L432.2,298.7 L433.3,299.2 L434.7,299.9 L435.9,300.5 L436.7,300.6 L436.9,299.9 L436.7,298.7 L436.2,297.2 L435.8,295.9 L436,295.2 L436.7,295.2 L437.9,295.7 L439.2,296.4 L440.4,297 L441.1,296.9 L441.2,296.2 L440.9,294.9 L440.4,293.4 L440.1,292.2 L440.4,291.6 L441.2,291.7 L442.4,292.2" fill="none" stroke="#18458c" stroke-width="1.8" stroke-linecap="round"/>
<path d="M436.9,310.9 L436.9,312.4 L437.2,313.3 L437.7,313.5 L438.6,312.9 L439.6,311.7 L440.6,310.7 L441.4,310.2 L441.9,310.5 L442.1,311.6 L442.1,313.1 L442.2,314.5 L442.5,315.4 L443.1,315.4 L444,314.6 L445,313.5 L446,312.5 L446.7,312.1 L447.2,312.6 L447.4,313.7 L447.4,315.3 L447.5,316.7 L447.8,317.4 L448.5,317.3 L449.4,316.4 L450.4,315.3 L451.4,314.3 L452.1,314.1 L452.5,314.7 L452.6,315.9 L452.6,317.5 L452.8,318.8 L453.2,319.4 L453.9,319.1 L454.8,318.2 L455.9,317 L456.8,316.2 L457.4,316.1 L457.8,316.8 L457.9,318.1" fill="none" stroke="#18458c" stroke-width="1.8" stroke-linecap="round"/>
<path d="M439,322.7 L437.7,323.5 L437,324.2 L437.1,324.7 L438.1,325.1 L439.6,325.5 L441,325.8 L441.9,326.2 L441.8,326.8 L441,327.5 L439.7,328.3 L438.5,329.1 L437.9,329.8 L438.2,330.3 L439.3,330.7 L440.8,331 L442.1,331.4 L442.9,331.8 L442.7,332.5 L441.7,333.2 L440.4,334 L439.3,334.8 L438.8,335.4 L439.3,335.9 L440.4,336.3 L442,336.6 L443.2,337 L443.8,337.5 L443.5,338.1 L442.5,338.8 L441.1,339.6 L440.1,340.4 L439.8,341 L440.3,341.5 L441.6,341.9 L443.1,342.2 L444.3,342.6 L444.8,343.1 L444.3,343.7 L443.2,344.5" fill="none" stroke="#18458c" stroke-width="1.8" stroke-linecap="round"/>
<path d="M429.8,330.4 L428.5,329.7 L427.5,329.4 L427.1,329.8 L427.2,330.9 L427.7,332.3 L428.1,333.7 L428.2,334.7 L427.6,335 L426.6,334.6 L425.3,333.9 L424,333.2 L423.1,333 L422.8,333.5 L423,334.7 L423.5,336.1 L423.8,337.5 L423.8,338.3 L423.2,338.5 L422.1,338 L420.7,337.3 L419.5,336.7 L418.7,336.6 L418.5,337.3 L418.7,338.5 L419.2,340 L419.6,341.3 L419.4,342 L418.7,342 L417.5,341.5 L416.2,340.8 L415,340.2 L414.3,340.3 L414.2,341 L414.5,342.3 L415,343.8 L415.3,345 L415,345.6 L414.2,345.5 L413,345" fill="none" stroke="#18458c" stroke-width="1.8" stroke-linecap="round"/>
<path d="M418.5,326.3 L418.5,324.8 L418.2,323.9 L417.7,323.7 L416.8,324.3 L415.8,325.5 L414.8,326.5 L414,327 L413.5,326.7 L413.3,325.6 L413.3,324.1 L413.2,322.7 L412.9,321.8 L412.3,321.8 L411.4,322.6 L410.4,323.7 L409.4,324.7 L408.7,325.1 L408.2,324.6 L408,323.5 L408,321.9 L407.9,320.5 L407.6,319.8 L406.9,319.9 L406,320.8 L405,321.9 L404,322.9 L403.3,323.1 L402.9,322.5 L402.8,321.3 L402.8,319.7 L402.6,318.4 L402.2,317.8 L401.5,318.1 L400.6,319 L399.5,320.2 L398.6,321 L398,321.1 L397.6,320.4 L397.5,319.1" fill="none" stroke="#18458c" stroke-width="1.8" stroke-linecap="round"/>
<path d="M416.4,314.5 L417.7,313.7 L418.4,313 L418.3,312.5 L417.3,312.1 L415.8,311.7 L414.4,311.4 L413.5,311 L413.6,310.4 L414.4,309.7 L415.7,308.9 L416.9,308.1 L417.5,307.4 L417.2,306.9 L416.1,306.5 L414.6,306.2 L413.3,305.8 L412.5,305.4 L412.7,304.7 L413.7,304 L415,303.2 L416.1,302.4 L416.6,301.8 L416.1,301.3 L415,300.9 L413.4,300.6 L412.2,300.2 L411.6,299.7 L411.9,299.1 L412.9,298.4 L414.3,297.6 L415.3,296.8 L415.6,296.2 L415.1,295.7 L413.8,295.3 L412.3,295 L411.1,294.6 L410.6,294.1 L411.1,293.5 L412.2,292.7" fill="none" stroke="#18458c" stroke-width="1.8" stroke-linecap="round"/>
<use href="#dendM" transform="translate(427.7 280.1) rotate(-90) scale(1.04)"/>
<use href="#dendM" transform="translate(461 299.4) rotate(-30) scale(1.04)"/>
<use href="#dendM" transform="translate(461 337.9) rotate(30) scale(1.04)"/>
<use href="#dendM" transform="translate(427.7 357.1) rotate(90) scale(1.04)"/>
<use href="#dendM" transform="translate(394.4 337.9) rotate(150) scale(1.04)"/>
<use href="#dendM" transform="translate(394.4 299.4) rotate(210) scale(1.04)"/>
<circle cx="431.8" cy="299" r="5.4" fill="url(#brB)"/>
<circle cx="447.3" cy="302.4" r="5.4" fill="url(#brB)"/>
<circle cx="409" cy="317.6" r="5.4" fill="url(#brB)"/>
<circle cx="424.3" cy="317.6" r="5.4" fill="url(#brB)"/>
<circle cx="453.1" cy="316" r="5.4" fill="url(#brB)"/>
<circle cx="444.6" cy="328.8" r="5.4" fill="url(#brB)"/>
<circle cx="414.2" cy="333.5" r="5.4" fill="url(#brB)"/>
<circle cx="416.9" cy="305.1" r="5.2" fill="url(#redB)"/>
<circle cx="440.6" cy="313.2" r="5.2" fill="url(#redB)"/>
<circle cx="429.4" cy="334.6" r="5.2" fill="url(#redB)"/>
<text x="389.8" y="399.5" font-size="11.55" font-weight="bold" fill="#111" stroke="#111" stroke-width="0.2" textLength="88.85" lengthAdjust="spacingAndGlyphs">Ce6&amp;CO@FADP</text>
<rect x="504" y="231" width="280.5" height="180.5" rx="20" ry="20" fill="none" stroke="#6e6e6e" stroke-width="1.3" stroke-dasharray="4 3"/>
<path d="M521.3,253.3 L522.2,254.9 L523,257.6 L523.9,260.3 L524.7,262.1 L525.6,262.1 L526.4,260.4 L527.3,257.6 L528.1,254.9 L529,253.3 L529.8,253.4 L530.7,255.2 L531.5,258 L532.4,260.6 L533.2,262.2 L534.1,261.9 L534.9,260.1 L535.8,257.2 L536.6,254.6 L537.5,253.2 L538.3,253.5 L539.2,255.5 L540,258.3 L540.9,260.9 L541.7,262.2 L542.6,261.8 L543.4,259.7 L544.3,256.9 L545.1,254.3 L546,253.1 L546.8,253.7 L547.7,255.9 L548.5,258.7 L549.4,261.2 L550.2,262.3 L551.1,261.6 L551.9,259.4 L552.8,256.5 L553.6,254.1 L554.5,253.1 L555.3,253.9 L556.2,256.2" fill="none" stroke="#1c4a80" stroke-width="2.2" stroke-linecap="round"/>
<text x="510" y="281.3" font-size="10.07" font-weight="bold" fill="#111" stroke="#111" stroke-width="0.2" textLength="55.93" lengthAdjust="spacingAndGlyphs">stearic acid</text>
<path d="M608.1,253.2 L603.1,258.3 L598,253.2 L593,258.3 L587.9,253.2 L582.9,258.3 L577.8,253.2 L572.8,258.3 L572.8,270.5 L578.3,276.2 L583.8,270.5 L589.3,276.2 L594.8,270.5 L600.3,276.2 L605.8,270.5 L611.2,276.2 L616.7,270.5 L622.2,276.2 L627.7,270.5 L633.2,276.2 L638.7,270.5 L644.2,276.2" fill="none" stroke="#333" stroke-width="0.75" stroke-linejoin="round"/>
<path d="M607.5,253.2 L607.5,243.6" fill="none" stroke="#333" stroke-width="0.7" stroke-linejoin="round"/>
<path d="M608.9,253.2 L608.9,243.6" fill="none" stroke="#333" stroke-width="0.7" stroke-linejoin="round"/>
<text x="608.3" y="243.2" font-size="5.6" fill="#222" text-anchor="middle" font-weight="bold">O</text>
<path d="M608.1,253.2 L612.5,256" fill="none" stroke="#333" stroke-width="0.75" stroke-linejoin="round"/>
<text x="615.8" y="261" font-size="5.4" fill="#222" text-anchor="middle" font-weight="bold">NH</text>
<path d="M620,256 L623.2,253 L628.5,258.3 L634,253.8" fill="none" stroke="#333" stroke-width="0.75" stroke-linejoin="round"/>
<text x="637" y="255.3" font-size="5.8" fill="#222" text-anchor="middle" font-weight="bold">S</text>
<path d="M638.5,255 L642.2,257.2" fill="none" stroke="#333" stroke-width="0.75" stroke-linejoin="round"/>
<text x="644" y="261.5" font-size="5.8" fill="#222" text-anchor="middle" font-weight="bold">S</text>
<path d="M646,257.5 L651,253.2 L656.5,258 L661.5,253.5" fill="none" stroke="#333" stroke-width="0.75" stroke-linejoin="round"/>
<text x="667" y="254.6" font-size="5" fill="#222" text-anchor="middle" font-weight="bold">NH<tspan font-size="3.5" dy="1">2</tspan></text>
<text x="584.8" y="293.9" font-size="9.6" font-weight="bold" fill="#111" stroke="#111" stroke-width="0.25" textLength="50.6" lengthAdjust="spacingAndGlyphs">NH<tspan font-size="6.3" dy="1.8">2</tspan><tspan dy="-1.8">-SS-</tspan><tspan fill="#3b8ed0" stroke="#3b8ed0">SA</tspan></text>
<circle cx="684.2" cy="273.2" r="5" fill="url(#redB)"/>
<text x="676.2" y="294.4" font-size="8.71" font-weight="bold" fill="#111" stroke="#111" stroke-width="0.2" textLength="17.64" lengthAdjust="spacingAndGlyphs">Ce6</text>
<path d="M737.5,263.5 L732.1,263.9 L730,259 L734.1,255.4 L738.7,258.2 L737.5,263.5" fill="none" stroke="#3a3a3a" stroke-width="0.75" stroke-linejoin="round"/>
<path d="M730.8,259.8 L734.8,256.3" fill="none" stroke="#3a3a3a" stroke-width="0.6" stroke-linejoin="round"/>
<path d="M752,264 L751.6,258.6 L756.5,256.5 L760.1,260.6 L757.3,265.2 L752,264" fill="none" stroke="#3a3a3a" stroke-width="0.75" stroke-linejoin="round"/>
<path d="M755.7,257.3 L759.2,261.3" fill="none" stroke="#3a3a3a" stroke-width="0.6" stroke-linejoin="round"/>
<path d="M735.9,278.4 L736.5,283.8 L731.6,286 L727.9,282 L730.6,277.3 L735.9,278.4" fill="none" stroke="#3a3a3a" stroke-width="0.75" stroke-linejoin="round"/>
<path d="M732.4,285.3 L728.8,281.3" fill="none" stroke="#3a3a3a" stroke-width="0.6" stroke-linejoin="round"/>
<path d="M750.7,277.7 L756.1,276.9 L758.5,281.7 L754.7,285.5 L749.9,283.1 L750.7,277.7" fill="none" stroke="#3a3a3a" stroke-width="0.75" stroke-linejoin="round"/>
<path d="M757.8,280.9 L753.9,284.8" fill="none" stroke="#3a3a3a" stroke-width="0.6" stroke-linejoin="round"/>
<path d="M738.7,258.2 L745.1,255.4 L751.6,258.6" fill="none" stroke="#3a3a3a" stroke-width="0.75" stroke-linejoin="round"/>
<path d="M732.1,263.9 L728.4,270.6 L730.6,277.3" fill="none" stroke="#3a3a3a" stroke-width="0.75" stroke-linejoin="round"/>
<path d="M757.3,265.2 L759.7,271.1 L756.1,276.9" fill="none" stroke="#3a3a3a" stroke-width="0.75" stroke-linejoin="round"/>
<path d="M736.5,283.8 L743.2,286.4 L749.9,283.1" fill="none" stroke="#3a3a3a" stroke-width="0.75" stroke-linejoin="round"/>
<path d="M734.1,255.4 L733,249.5 L736.5,244.5" fill="none" stroke="#3a3a3a" stroke-width="0.7" stroke-linejoin="round"/>
<path d="M730,259 L723,257.5" fill="none" stroke="#3a3a3a" stroke-width="0.7" stroke-linejoin="round"/>
<path d="M756.5,256.5 L759.5,250.5" fill="none" stroke="#3a3a3a" stroke-width="0.7" stroke-linejoin="round"/>
<path d="M760.1,260.6 L767.5,259.5 L772,265.5" fill="none" stroke="#3a3a3a" stroke-width="0.7" stroke-linejoin="round"/>
<path d="M727.9,282 L723,281" fill="none" stroke="#3a3a3a" stroke-width="0.7" stroke-linejoin="round"/>
<path d="M731.6,286 L730.5,291 L726,294 L723,300.5" fill="none" stroke="#3a3a3a" stroke-width="0.7" stroke-linejoin="round"/>
<path d="M723,300.5 L717.5,304.5" fill="none" stroke="#3a3a3a" stroke-width="0.7" stroke-linejoin="round"/>
<path d="M723,300.5 L726,305" fill="none" stroke="#3a3a3a" stroke-width="0.7" stroke-linejoin="round"/>
<path d="M758.5,281.7 L764.5,285.5" fill="none" stroke="#3a3a3a" stroke-width="0.7" stroke-linejoin="round"/>
<path d="M754.7,285.5 L752,292.5 L754.5,296" fill="none" stroke="#3a3a3a" stroke-width="0.7" stroke-linejoin="round"/>
<path d="M752,292.5 L748,295" fill="none" stroke="#3a3a3a" stroke-width="0.7" stroke-linejoin="round"/>
<path d="M744,287.5 L741.5,293 L738.5,296" fill="none" stroke="#3a3a3a" stroke-width="0.7" stroke-linejoin="round"/>
<path d="M738.5,296 L738.5,299.5" fill="none" stroke="#3a3a3a" stroke-width="0.7" stroke-linejoin="round"/>
<text x="738.8" y="264.2" font-size="3.6" fill="#222" text-anchor="middle" font-weight="bold">NH</text>
<text x="752.8" y="266" font-size="3.8" fill="#222" text-anchor="middle" font-weight="bold">N</text>
<text x="736.4" y="278" font-size="3.8" fill="#222" text-anchor="middle" font-weight="bold">N</text>
<text x="750.6" y="278" font-size="3.6" fill="#222" text-anchor="middle" font-weight="bold">HN</text>
<text x="713.6" y="308.3" font-size="3.9" fill="#222" text-anchor="middle" font-weight="bold">HO</text>
<text x="727.6" y="309" font-size="3.9" fill="#222" text-anchor="middle" font-weight="bold">O</text>
<text x="735.5" y="298.5" font-size="3.9" fill="#222" text-anchor="middle" font-weight="bold">O</text>
<text x="739.6" y="303.3" font-size="3.9" fill="#222" text-anchor="middle" font-weight="bold">OH</text>
<text x="745.8" y="298.5" font-size="3.9" fill="#222" text-anchor="middle" font-weight="bold">HO</text>
<text x="758.2" y="299.3" font-size="3.9" fill="#222" text-anchor="middle" font-weight="bold">O</text>
<g transform="translate(526.2 320.7)"><use href="#dend" transform="scale(1.08 1.1)"/></g>
<text x="563.8" y="329.7" font-size="9.2" font-weight="bold" fill="#111" stroke="#111" stroke-width="0.25" textLength="73.6" lengthAdjust="spacingAndGlyphs">NH<tspan font-size="6.2" dy="1.8">2</tspan><tspan dy="-1.8">-Lys(G</tspan><tspan font-size="6.2" dy="1.8">4</tspan><tspan dy="-1.8">)-OH</tspan></text>
<path d="M533.5,377.3 L546,373.8 L545.5,380.8 Z" fill="url(#cone)" stroke="#1f5a22" stroke-width="0.6"/>
<path d="M573.5,378.5 L581.8,373.9 L592.3,378.9 L602,373 L612,379.4" fill="none" stroke="#2a2a2a" stroke-width="0.9" stroke-linejoin="round"/>
<path d="M581.2,373.9 L581.2,365" fill="none" stroke="#2a2a2a" stroke-width="0.8" stroke-linejoin="round"/>
<path d="M583,373.9 L583,365" fill="none" stroke="#2a2a2a" stroke-width="0.8" stroke-linejoin="round"/>
<text x="582.5" y="365.2" font-size="5.6" fill="#222" text-anchor="middle" font-weight="bold">O</text>
<path d="M592.3,378.9 L586.5,383" fill="none" stroke="#2a2a2a" stroke-width="0.8" stroke-linejoin="round"/>
<path d="M592.3,378.9 L597.5,383" fill="none" stroke="#2a2a2a" stroke-width="0.8" stroke-linejoin="round"/>
<path d="M602,373 L597,368.5" fill="none" stroke="#2a2a2a" stroke-width="0.8" stroke-linejoin="round"/>
<path d="M602,373 L607,368.5" fill="none" stroke="#2a2a2a" stroke-width="0.8" stroke-linejoin="round"/>
<path d="M612,379.4 L618,375.5" fill="none" stroke="#2a2a2a" stroke-width="0.8" stroke-linejoin="round"/>
<path d="M612,379.4 L618,382" fill="none" stroke="#2a2a2a" stroke-width="0.8" stroke-linejoin="round"/>
<path d="M612,379.4 L612.8,385" fill="none" stroke="#2a2a2a" stroke-width="0.8" stroke-linejoin="round"/>
<text x="584.5" y="388.6" font-size="5.4" fill="#222" text-anchor="middle" font-weight="bold">F</text>
<text x="599.7" y="388.6" font-size="5.4" fill="#222" text-anchor="middle" font-weight="bold">F</text>
<text x="594.1" y="368" font-size="5.4" fill="#222" text-anchor="middle" font-weight="bold">F</text>
<text x="609.7" y="368" font-size="5.4" fill="#222" text-anchor="middle" font-weight="bold">F</text>
<text x="620.8" y="375.3" font-size="5.4" fill="#222" text-anchor="middle" font-weight="bold">F</text>
<text x="620.8" y="385.4" font-size="5.4" fill="#222" text-anchor="middle" font-weight="bold">F</text>
<text x="613.4" y="390.9" font-size="5.4" fill="#222" text-anchor="middle" font-weight="bold">F</text>
<circle cx="684.9" cy="343.5" r="5.8" fill="url(#brB)"/>
<text x="664.7" y="367.3" font-size="9.71" font-weight="bold" fill="#111" stroke="#111" stroke-width="0.2" textLength="49.26" lengthAdjust="spacingAndGlyphs">CORM-401</text>
<text x="730.8" y="326.2" font-size="5.2" fill="#222" text-anchor="middle" font-weight="bold">CO</text>
<text x="713.8" y="333.1" font-size="5.2" fill="#222" text-anchor="middle" font-weight="bold">OC</text>
<text x="728.3" y="339.4" font-size="5.2" fill="#222" text-anchor="middle" font-weight="bold">Mn</text>
<text x="713.8" y="346.3" font-size="5.2" fill="#222" text-anchor="middle" font-weight="bold">OC</text>
<text x="730.8" y="353.2" font-size="5.2" fill="#222" text-anchor="middle" font-weight="bold">CO</text>
<text x="739.6" y="333.1" font-size="5.2" fill="#222" text-anchor="middle" font-weight="bold">S</text>
<text x="739.6" y="346.9" font-size="5.2" fill="#222" text-anchor="middle" font-weight="bold">S</text>
<text x="764.7" y="340" font-size="5.2" fill="#222" text-anchor="middle" font-weight="bold">N</text>
<text x="757.8" y="363.9" font-size="5.2" fill="#222" text-anchor="middle" font-weight="bold">HOOC</text>
<path d="M728.6,327.5 L728.6,335.5" fill="none" stroke="#333" stroke-width="0.7" stroke-linejoin="round"/>
<path d="M728.6,341 L728.6,349" fill="none" stroke="#333" stroke-width="0.7" stroke-linejoin="round"/>
<path d="M717.8,332.5 L725.5,336.3" fill="none" stroke="#333" stroke-width="0.7" stroke-linejoin="round"/>
<path d="M717.8,344.5 L725.5,339.8" fill="none" stroke="#333" stroke-width="0.7" stroke-linejoin="round"/>
<path d="M731.5,336.5 L737.3,332.4" fill="none" stroke="#333" stroke-width="0.7" stroke-linejoin="round"/>
<path d="M731.5,339 L737.3,344.6" fill="none" stroke="#333" stroke-width="0.7" stroke-linejoin="round"/>
<path d="M741.6,332.5 L751.5,338.1 L741.6,344.8" fill="none" stroke="#333" stroke-width="0.7" stroke-linejoin="round"/>
<path d="M742.6,334.6 L750,338.6" fill="none" stroke="#333" stroke-width="0.6" stroke-linejoin="round"/>
<path d="M742.6,343 L750,338.9" fill="none" stroke="#333" stroke-width="0.6" stroke-linejoin="round"/>
<path d="M751.5,338.1 L762.8,338.1" fill="none" stroke="#333" stroke-width="0.7" stroke-linejoin="round"/>
<path d="M766,336.5 L772.2,326.2" fill="none" stroke="#333" stroke-width="0.7" stroke-linejoin="round"/>
<path d="M766,340.5 L770.3,348.8 L766.6,359" fill="none" stroke="#333" stroke-width="0.7" stroke-linejoin="round"/>
<path d="M676.2,403.6 L684,394.5 L686,396.5 L691.5,390 L693,393 L699,386.8 L703.5,393.5 L696.5,397.5 L694.5,395.5 L689,399.5 L687.5,397.5 Z" fill="url(#bolt)" stroke="url(#bolt)" stroke-width="0.6" stroke-linejoin="round"/>
<text x="712.4" y="397.1" font-size="9.52" font-weight="bold" fill="#111" stroke="#111" stroke-width="0.2" textLength="41.03" lengthAdjust="spacingAndGlyphs">NIR light</text>
</svg></body></html>
